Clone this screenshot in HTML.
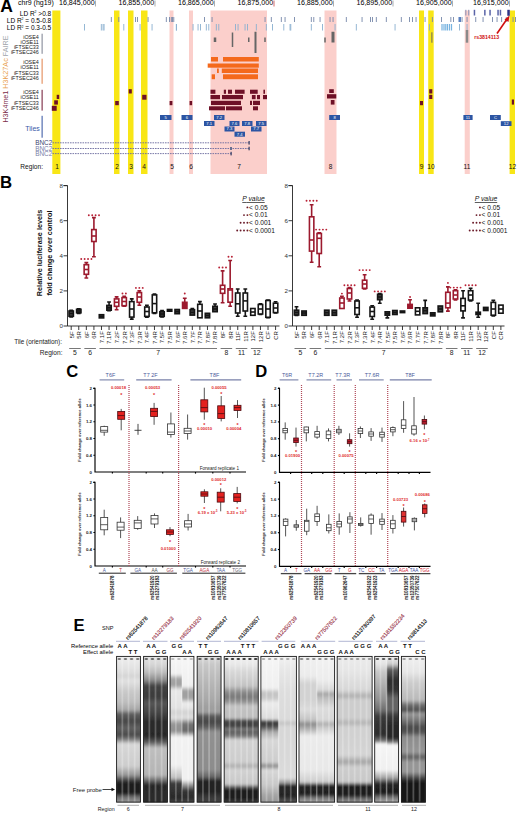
<!DOCTYPE html>
<html><head><meta charset="utf-8"><style>
html,body{margin:0;padding:0;background:#fff;overflow:hidden;width:520px;height:814px;}
svg{display:block;font-family:"Liberation Sans", sans-serif;}
</style></head><body>
<svg width="520" height="814" viewBox="0 0 520 814">
<rect width="520" height="814" fill="#fff"/>
<rect x="169.50" y="10.50" width="4.00" height="163.50" fill="#fbcfcb" />
<rect x="189.00" y="10.50" width="4.00" height="163.50" fill="#fbcfcb" />
<rect x="210.50" y="10.50" width="56.50" height="163.50" fill="#fbcfcb" />
<rect x="324.50" y="10.50" width="12.00" height="163.50" fill="#fbcfcb" />
<rect x="464.70" y="10.50" width="5.10" height="163.50" fill="#fbcfcb" />
<rect x="52.30" y="10.50" width="8.10" height="163.50" fill="#f8e616" />
<rect x="114.00" y="10.50" width="5.50" height="163.50" fill="#f8e616" />
<rect x="128.00" y="10.50" width="5.50" height="163.50" fill="#f8e616" />
<rect x="141.00" y="10.50" width="6.50" height="163.50" fill="#f8e616" />
<rect x="419.00" y="10.50" width="5.00" height="163.50" fill="#f8e616" />
<rect x="428.20" y="10.50" width="5.50" height="163.50" fill="#f8e616" />
<rect x="509.60" y="10.50" width="5.40" height="163.50" fill="#f8e616" />
<text x="0.20" y="12.40" font-size="17.5" fill="#000" text-anchor="start" font-weight="bold"  style="">A</text>
<text x="18.00" y="4.80" font-size="7" fill="#000" text-anchor="start" font-weight="normal"  style="">chr9 (hg19)</text>
<text x="94.70" y="4.90" font-size="7.15" fill="#000" text-anchor="end" font-weight="normal"  style="">16,845,000</text>
<line x1="95.50" y1="0.50" x2="95.50" y2="6.50" stroke="#999" stroke-width="0.8" />
<text x="154.20" y="4.90" font-size="7.15" fill="#000" text-anchor="end" font-weight="normal"  style="">16,855,000</text>
<line x1="155.00" y1="0.50" x2="155.00" y2="6.50" stroke="#999" stroke-width="0.8" />
<text x="213.70" y="4.90" font-size="7.15" fill="#000" text-anchor="end" font-weight="normal"  style="">16,865,000</text>
<line x1="214.50" y1="0.50" x2="214.50" y2="6.50" stroke="#999" stroke-width="0.8" />
<text x="273.20" y="4.90" font-size="7.15" fill="#000" text-anchor="end" font-weight="normal"  style="">16,875,000</text>
<line x1="274.00" y1="0.50" x2="274.00" y2="6.50" stroke="#c44" stroke-width="0.8" />
<text x="332.70" y="4.90" font-size="7.15" fill="#000" text-anchor="end" font-weight="normal"  style="">16,885,000</text>
<line x1="333.50" y1="0.50" x2="333.50" y2="6.50" stroke="#999" stroke-width="0.8" />
<text x="392.20" y="4.90" font-size="7.15" fill="#000" text-anchor="end" font-weight="normal"  style="">16,895,000</text>
<line x1="393.00" y1="0.50" x2="393.00" y2="6.50" stroke="#999" stroke-width="0.8" />
<text x="451.70" y="4.90" font-size="7.15" fill="#000" text-anchor="end" font-weight="normal"  style="">16,905,000</text>
<line x1="452.50" y1="0.50" x2="452.50" y2="6.50" stroke="#999" stroke-width="0.8" />
<text x="508.70" y="4.90" font-size="7.15" fill="#000" text-anchor="end" font-weight="normal"  style="">16,915,000</text>
<line x1="509.50" y1="0.50" x2="509.50" y2="6.50" stroke="#999" stroke-width="0.8" />
<text x="51.20" y="15.70" font-size="6.5" fill="#000" text-anchor="end" font-weight="normal"  style="">LD R<tspan font-size="3.5" dy="-2.5">2</tspan><tspan dy="2.5"> &gt;0.8</tspan></text>
<text x="51.20" y="22.90" font-size="6.5" fill="#000" text-anchor="end" font-weight="normal"  style="">LD R<tspan font-size="3.5" dy="-2.5">2</tspan><tspan dy="2.5"> = 0.5-0.8</tspan></text>
<text x="51.20" y="30.10" font-size="6.5" fill="#000" text-anchor="end" font-weight="normal"  style="">LD R<tspan font-size="3.5" dy="-2.5">2</tspan><tspan dy="2.5"> = 0.3-0.5</tspan></text>
<rect x="473.70" y="9.80" width="1.50" height="5.70" fill="#5a64a8" />
<rect x="484.10" y="9.80" width="1.50" height="5.70" fill="#5a64a8" />
<rect x="489.30" y="9.80" width="1.50" height="5.70" fill="#5a64a8" />
<rect x="497.30" y="9.80" width="1.50" height="5.70" fill="#5a64a8" />
<rect x="499.70" y="9.80" width="1.50" height="5.70" fill="#5a64a8" />
<rect x="507.30" y="9.80" width="2.50" height="6.00" fill="#2e3488" />
<rect x="110.85" y="17.00" width="0.90" height="5.00" fill="#7788aa" />
<rect x="118.35" y="17.00" width="0.90" height="5.00" fill="#7788aa" />
<rect x="135.10" y="17.00" width="0.90" height="5.00" fill="#7788aa" />
<rect x="137.10" y="17.00" width="0.90" height="5.00" fill="#7788aa" />
<rect x="147.60" y="17.00" width="0.90" height="5.00" fill="#7788aa" />
<rect x="165.85" y="17.00" width="0.90" height="5.00" fill="#7788aa" />
<rect x="169.10" y="17.00" width="0.90" height="5.00" fill="#7788aa" />
<rect x="172.10" y="17.00" width="0.90" height="5.00" fill="#7788aa" />
<rect x="170.85" y="17.00" width="0.90" height="5.00" fill="#7788aa" />
<rect x="173.35" y="17.00" width="0.90" height="5.00" fill="#7788aa" />
<rect x="204.10" y="17.00" width="0.90" height="5.00" fill="#7788aa" />
<rect x="211.60" y="17.00" width="0.90" height="5.00" fill="#7788aa" />
<rect x="264.60" y="17.00" width="0.90" height="5.00" fill="#7788aa" />
<rect x="270.85" y="17.00" width="0.90" height="5.00" fill="#7788aa" />
<rect x="280.85" y="17.00" width="0.90" height="5.00" fill="#7788aa" />
<rect x="284.60" y="17.00" width="0.90" height="5.00" fill="#7788aa" />
<rect x="294.10" y="17.00" width="0.90" height="5.00" fill="#7788aa" />
<rect x="310.85" y="17.00" width="0.90" height="5.00" fill="#7788aa" />
<rect x="313.35" y="17.00" width="0.90" height="5.00" fill="#7788aa" />
<rect x="319.60" y="17.00" width="0.90" height="5.00" fill="#7788aa" />
<rect x="329.60" y="17.00" width="0.90" height="5.00" fill="#7788aa" />
<rect x="332.60" y="17.00" width="0.90" height="5.00" fill="#7788aa" />
<rect x="345.85" y="17.00" width="0.90" height="5.00" fill="#7788aa" />
<rect x="361.60" y="17.00" width="0.90" height="5.00" fill="#7788aa" />
<rect x="370.10" y="17.00" width="0.90" height="5.00" fill="#7788aa" />
<rect x="372.10" y="17.00" width="0.90" height="5.00" fill="#7788aa" />
<rect x="375.85" y="17.00" width="0.90" height="5.00" fill="#7788aa" />
<rect x="385.85" y="17.00" width="0.90" height="5.00" fill="#7788aa" />
<rect x="400.85" y="17.00" width="0.90" height="5.00" fill="#7788aa" />
<rect x="409.10" y="17.00" width="0.90" height="5.00" fill="#7788aa" />
<rect x="412.10" y="17.00" width="0.90" height="5.00" fill="#7788aa" />
<rect x="415.60" y="17.00" width="0.90" height="5.00" fill="#7788aa" />
<rect x="424.60" y="17.00" width="0.90" height="5.00" fill="#7788aa" />
<rect x="431.90" y="17.00" width="0.90" height="5.00" fill="#7788aa" />
<rect x="441.10" y="17.00" width="0.90" height="5.00" fill="#7788aa" />
<rect x="450.40" y="17.00" width="0.90" height="5.00" fill="#7788aa" />
<rect x="453.10" y="17.00" width="0.90" height="5.00" fill="#7788aa" />
<rect x="459.10" y="17.00" width="0.90" height="5.00" fill="#7788aa" />
<rect x="461.60" y="17.00" width="0.90" height="5.00" fill="#7788aa" />
<rect x="466.60" y="17.00" width="0.90" height="5.00" fill="#7788aa" />
<rect x="475.30" y="17.00" width="0.90" height="5.00" fill="#7788aa" />
<rect x="482.60" y="17.00" width="0.90" height="5.00" fill="#7788aa" />
<rect x="492.00" y="17.00" width="0.90" height="5.00" fill="#7788aa" />
<rect x="496.60" y="17.00" width="0.90" height="5.00" fill="#7788aa" />
<rect x="501.20" y="17.00" width="0.90" height="5.00" fill="#7788aa" />
<rect x="505.80" y="17.00" width="0.90" height="5.00" fill="#7788aa" />
<rect x="512.60" y="17.00" width="0.90" height="5.00" fill="#7788aa" />
<rect x="515.10" y="17.00" width="0.90" height="5.00" fill="#7788aa" />
<rect x="458.50" y="17.00" width="2.50" height="5.00" fill="#5a80c0" />
<rect x="84.10" y="24.00" width="0.90" height="6.50" fill="#8ab0d0" />
<rect x="100.85" y="24.00" width="0.90" height="6.50" fill="#8ab0d0" />
<rect x="102.60" y="24.00" width="0.90" height="6.50" fill="#8ab0d0" />
<rect x="103.60" y="24.00" width="0.90" height="6.50" fill="#8ab0d0" />
<rect x="123.35" y="24.00" width="0.90" height="6.50" fill="#8ab0d0" />
<rect x="139.60" y="24.00" width="0.90" height="6.50" fill="#8ab0d0" />
<rect x="151.60" y="24.00" width="0.90" height="6.50" fill="#8ab0d0" />
<rect x="176.10" y="24.00" width="0.90" height="6.50" fill="#8ab0d0" />
<rect x="175.85" y="24.00" width="0.90" height="6.50" fill="#8ab0d0" />
<rect x="192.60" y="24.00" width="0.90" height="6.50" fill="#8ab0d0" />
<rect x="197.60" y="24.00" width="0.90" height="6.50" fill="#8ab0d0" />
<rect x="200.10" y="24.00" width="0.90" height="6.50" fill="#8ab0d0" />
<rect x="205.85" y="24.00" width="0.90" height="6.50" fill="#8ab0d0" />
<rect x="208.35" y="24.00" width="0.90" height="6.50" fill="#8ab0d0" />
<rect x="215.85" y="24.00" width="0.90" height="6.50" fill="#8ab0d0" />
<rect x="218.35" y="24.00" width="0.90" height="6.50" fill="#8ab0d0" />
<rect x="235.10" y="24.00" width="0.90" height="6.50" fill="#8ab0d0" />
<rect x="237.60" y="24.00" width="0.90" height="6.50" fill="#8ab0d0" />
<rect x="244.60" y="24.00" width="0.90" height="6.50" fill="#8ab0d0" />
<rect x="247.10" y="24.00" width="0.90" height="6.50" fill="#8ab0d0" />
<rect x="255.85" y="24.00" width="0.90" height="6.50" fill="#8ab0d0" />
<rect x="265.85" y="24.00" width="0.90" height="6.50" fill="#8ab0d0" />
<rect x="272.10" y="24.00" width="0.90" height="6.50" fill="#8ab0d0" />
<rect x="283.35" y="24.00" width="0.90" height="6.50" fill="#8ab0d0" />
<rect x="289.60" y="24.00" width="0.90" height="6.50" fill="#8ab0d0" />
<rect x="290.35" y="24.00" width="0.90" height="6.50" fill="#8ab0d0" />
<rect x="310.85" y="24.00" width="0.90" height="6.50" fill="#8ab0d0" />
<rect x="322.10" y="24.00" width="0.90" height="6.50" fill="#8ab0d0" />
<rect x="334.60" y="24.00" width="0.90" height="6.50" fill="#8ab0d0" />
<rect x="355.85" y="24.00" width="0.90" height="6.50" fill="#8ab0d0" />
<rect x="394.60" y="24.00" width="0.90" height="6.50" fill="#8ab0d0" />
<rect x="429.10" y="24.00" width="0.90" height="6.50" fill="#8ab0d0" />
<rect x="459.10" y="24.00" width="0.90" height="6.50" fill="#8ab0d0" />
<rect x="466.60" y="24.00" width="0.90" height="6.50" fill="#8ab0d0" />
<rect x="441.40" y="24.00" width="1.20" height="6.50" fill="#78b4e0" />
<rect x="443.40" y="24.00" width="1.20" height="6.50" fill="#78b4e0" />
<rect x="445.20" y="24.00" width="1.20" height="6.50" fill="#78b4e0" />
<rect x="446.90" y="24.00" width="1.20" height="6.50" fill="#78b4e0" />
<rect x="448.90" y="24.00" width="1.20" height="6.50" fill="#78b4e0" />
<rect x="450.90" y="24.00" width="1.20" height="6.50" fill="#78b4e0" />
<rect x="465.20" y="9.80" width="1.20" height="5.70" fill="#9a9ab8" />
<rect x="468.10" y="9.80" width="1.20" height="5.70" fill="#9a9ab8" />
<rect x="213.75" y="37.50" width="2.50" height="4.50" fill="#666" />
<rect x="231.75" y="32.50" width="1.50" height="14.50" fill="#666" />
<rect x="248.00" y="37.50" width="1.50" height="4.50" fill="#666" />
<rect x="254.50" y="31.75" width="2.00" height="21.25" fill="#666" />
<rect x="264.25" y="37.50" width="1.50" height="4.50" fill="#666" />
<rect x="324.25" y="37.50" width="1.50" height="5.00" fill="#666" />
<rect x="331.50" y="31.75" width="3.00" height="10.75" fill="#666" />
<rect x="431.40" y="32.30" width="1.00" height="10.40" fill="#666" />
<rect x="465.75" y="30.00" width="2.50" height="12.70" fill="#8a8a8a" />
<text x="38.80" y="38.50" font-size="5.4" fill="#222" text-anchor="end" font-weight="normal"  style="">iOSE4</text>
<text x="38.80" y="43.70" font-size="5.4" fill="#222" text-anchor="end" font-weight="normal"  style="">iOSE11</text>
<text x="38.80" y="48.90" font-size="5.4" fill="#222" text-anchor="end" font-weight="normal"  style="">iFTSEC33</text>
<text x="38.80" y="54.10" font-size="5.4" fill="#222" text-anchor="end" font-weight="normal"  style="">iFTSEC246</text>
<text x="38.80" y="64.20" font-size="5.4" fill="#222" text-anchor="end" font-weight="normal"  style="">iOSE4</text>
<text x="38.80" y="69.40" font-size="5.4" fill="#222" text-anchor="end" font-weight="normal"  style="">iOSE11</text>
<text x="38.80" y="74.60" font-size="5.4" fill="#222" text-anchor="end" font-weight="normal"  style="">iFTSEC33</text>
<text x="38.80" y="79.80" font-size="5.4" fill="#222" text-anchor="end" font-weight="normal"  style="">iFTSEC246</text>
<text x="38.80" y="94.20" font-size="5.4" fill="#222" text-anchor="end" font-weight="normal"  style="">iOSE4</text>
<text x="38.80" y="99.40" font-size="5.4" fill="#222" text-anchor="end" font-weight="normal"  style="">iOSE11</text>
<text x="38.80" y="104.60" font-size="5.4" fill="#222" text-anchor="end" font-weight="normal"  style="">iFTSEC33</text>
<text x="38.80" y="109.80" font-size="5.4" fill="#222" text-anchor="end" font-weight="normal"  style="">iFTSEC246</text>
<rect x="41.60" y="33.70" width="1.00" height="20.10" fill="#7a7f8f" />
<rect x="41.60" y="58.70" width="1.00" height="25.10" fill="#e0804a" />
<rect x="41.60" y="89.80" width="1.00" height="20.80" fill="#6e1530" />
<rect x="41.60" y="115.80" width="1.00" height="21.90" fill="#3050a0" />
<text x="39.80" y="131.00" font-size="7" fill="#3a5aa8" text-anchor="end" font-weight="normal"  style="">Tiles</text>
<text transform="translate(8.2,122.6) rotate(-90)" font-size="7.2" fill="#7a2a48"><tspan>H3K4me1 </tspan><tspan fill="#e8a050">H3K27Ac </tspan><tspan fill="#a0a4aa">FAIRE</tspan></text>
<rect x="211.00" y="57.00" width="7.00" height="4.50" fill="#f4691c" />
<rect x="223.00" y="57.00" width="35.80" height="4.50" fill="#f4691c" />
<rect x="207.70" y="63.50" width="51.10" height="4.20" fill="#f4691c" />
<rect x="217.00" y="68.50" width="1.80" height="4.50" fill="#f4691c" />
<rect x="221.80" y="68.50" width="36.20" height="4.50" fill="#f4691c" />
<rect x="211.70" y="74.30" width="3.30" height="4.90" fill="#f4691c" />
<rect x="223.00" y="74.30" width="35.00" height="4.90" fill="#f4691c" />
<rect x="210.50" y="89.70" width="4.90" height="4.10" fill="#6e1027" />
<rect x="223.80" y="89.70" width="2.20" height="4.10" fill="#6e1027" />
<rect x="228.00" y="89.70" width="4.00" height="4.10" fill="#6e1027" />
<rect x="235.00" y="89.70" width="9.60" height="4.10" fill="#6e1027" />
<rect x="250.00" y="89.70" width="7.70" height="4.10" fill="#6e1027" />
<rect x="263.40" y="89.70" width="1.60" height="4.10" fill="#6e1027" />
<rect x="210.50" y="95.00" width="9.50" height="4.20" fill="#6e1027" />
<rect x="222.00" y="95.00" width="21.00" height="4.20" fill="#6e1027" />
<rect x="251.90" y="95.00" width="3.70" height="4.20" fill="#6e1027" />
<rect x="257.00" y="95.00" width="3.00" height="4.20" fill="#6e1027" />
<rect x="263.00" y="95.00" width="4.00" height="4.20" fill="#6e1027" />
<rect x="211.00" y="100.80" width="30.00" height="4.20" fill="#6e1027" />
<rect x="250.00" y="100.80" width="2.00" height="4.20" fill="#6e1027" />
<rect x="253.00" y="100.80" width="7.00" height="4.20" fill="#6e1027" />
<rect x="209.00" y="106.30" width="16.00" height="4.00" fill="#6e1027" />
<rect x="226.00" y="106.30" width="16.00" height="4.00" fill="#6e1027" />
<rect x="253.00" y="106.30" width="5.00" height="4.00" fill="#6e1027" />
<rect x="56.70" y="94.80" width="2.50" height="4.20" fill="#6e1027" />
<rect x="54.20" y="100.30" width="3.70" height="4.30" fill="#6e1027" />
<rect x="51.80" y="105.80" width="4.90" height="5.00" fill="#6e1027" />
<rect x="115.20" y="101.00" width="3.60" height="4.20" fill="#6e1027" />
<rect x="128.70" y="89.20" width="3.10" height="4.30" fill="#6e1027" />
<rect x="142.20" y="94.80" width="4.30" height="4.90" fill="#6e1027" />
<rect x="169.60" y="101.00" width="2.80" height="4.20" fill="#6e1027" />
<rect x="189.60" y="101.00" width="2.50" height="4.20" fill="#6e1027" />
<rect x="329.20" y="89.20" width="4.60" height="3.80" fill="#6e1027" />
<rect x="327.00" y="94.20" width="9.30" height="4.30" fill="#6e1027" />
<rect x="330.80" y="100.00" width="3.70" height="4.60" fill="#6e1027" />
<rect x="420.00" y="101.00" width="3.00" height="4.20" fill="#6e1027" />
<rect x="429.20" y="89.20" width="3.10" height="4.30" fill="#6e1027" />
<rect x="429.20" y="94.80" width="3.10" height="4.20" fill="#6e1027" />
<rect x="511.80" y="99.50" width="2.20" height="5.10" fill="#6e1027" />
<rect x="160.00" y="115.00" width="11.50" height="5.00" fill="#2c55a3" />
<text x="165.75" y="118.80" font-size="4.2" fill="#fff" text-anchor="middle" font-weight="normal"  style="">5</text>
<rect x="181.50" y="115.00" width="11.00" height="5.00" fill="#2c55a3" />
<text x="187.00" y="118.80" font-size="4.2" fill="#fff" text-anchor="middle" font-weight="normal"  style="">6</text>
<rect x="214.00" y="115.00" width="10.50" height="5.00" fill="#2c55a3" />
<text x="219.25" y="118.80" font-size="4.2" fill="#fff" text-anchor="middle" font-weight="normal"  style="">7.2</text>
<rect x="204.00" y="121.00" width="10.50" height="5.00" fill="#2c55a3" />
<text x="209.25" y="124.80" font-size="4.2" fill="#fff" text-anchor="middle" font-weight="normal"  style="">7.1</text>
<rect x="229.50" y="121.00" width="10.00" height="5.00" fill="#2c55a3" />
<text x="234.50" y="124.80" font-size="4.2" fill="#fff" text-anchor="middle" font-weight="normal"  style="">7.6</text>
<rect x="242.00" y="121.00" width="10.50" height="5.00" fill="#2c55a3" />
<text x="247.25" y="124.80" font-size="4.2" fill="#fff" text-anchor="middle" font-weight="normal"  style="">7.8</text>
<rect x="256.00" y="121.00" width="10.50" height="5.00" fill="#2c55a3" />
<text x="261.25" y="124.80" font-size="4.2" fill="#fff" text-anchor="middle" font-weight="normal"  style="">7.5</text>
<rect x="224.50" y="126.50" width="10.00" height="5.00" fill="#2c55a3" />
<text x="229.50" y="130.30" font-size="4.2" fill="#fff" text-anchor="middle" font-weight="normal"  style="">7.3</text>
<rect x="251.00" y="126.50" width="10.50" height="5.00" fill="#2c55a3" />
<text x="256.25" y="130.30" font-size="4.2" fill="#fff" text-anchor="middle" font-weight="normal"  style="">7.7</text>
<rect x="234.50" y="131.70" width="10.50" height="5.00" fill="#2c55a3" />
<text x="239.75" y="135.50" font-size="4.2" fill="#fff" text-anchor="middle" font-weight="normal"  style="">7.4</text>
<rect x="329.20" y="115.00" width="10.80" height="5.00" fill="#2c55a3" />
<text x="334.60" y="118.80" font-size="4.2" fill="#fff" text-anchor="middle" font-weight="normal"  style="">8</text>
<rect x="463.40" y="115.00" width="9.20" height="5.00" fill="#2c55a3" />
<text x="468.00" y="118.80" font-size="4.2" fill="#fff" text-anchor="middle" font-weight="normal"  style="">11</text>
<rect x="490.00" y="115.00" width="10.80" height="5.00" fill="#2c55a3" />
<text x="495.40" y="118.80" font-size="4.2" fill="#fff" text-anchor="middle" font-weight="normal"  style="">C</text>
<rect x="500.80" y="121.20" width="10.70" height="4.80" fill="#2c55a3" />
<text x="506.15" y="124.80" font-size="4.2" fill="#fff" text-anchor="middle" font-weight="normal"  style="">12</text>
<text x="52.30" y="144.90" font-size="6.4" fill="#3a4270" text-anchor="end" font-weight="normal"  style="">BNC2</text>
<line x1="52.50" y1="142.80" x2="249.50" y2="142.80" stroke="#6a6a9e" stroke-width="0.9" stroke-dasharray="1.6 0.9"/>
<rect x="248.50" y="141.00" width="1.20" height="3.60" fill="#333a60" />
<text x="52.30" y="150.60" font-size="6.4" fill="#7880a8" text-anchor="end" font-weight="normal"  style="">BNC2</text>
<line x1="52.50" y1="148.50" x2="249.50" y2="148.50" stroke="#6a6a9e" stroke-width="0.9" stroke-dasharray="1.6 0.9"/>
<rect x="248.50" y="146.70" width="1.20" height="3.60" fill="#333a60" />
<text x="52.30" y="155.70" font-size="6.4" fill="#7880a8" text-anchor="end" font-weight="normal"  style="">BNC2</text>
<line x1="52.50" y1="153.60" x2="231.50" y2="153.60" stroke="#6a6a9e" stroke-width="0.9" stroke-dasharray="1.6 0.9"/>
<rect x="230.50" y="151.80" width="1.20" height="3.60" fill="#333a60" />
<rect x="230.00" y="147.00" width="2.00" height="3.00" fill="#6a6f90" />
<text x="20.30" y="168.60" font-size="6.6" fill="#111" text-anchor="start" font-weight="normal"  style="">Region:</text>
<text x="57.00" y="168.60" font-size="6.6" fill="#111" text-anchor="middle" font-weight="normal"  style="">1</text>
<text x="117.00" y="168.60" font-size="6.6" fill="#111" text-anchor="middle" font-weight="normal"  style="">2</text>
<text x="131.00" y="168.60" font-size="6.6" fill="#111" text-anchor="middle" font-weight="normal"  style="">3</text>
<text x="144.00" y="168.60" font-size="6.6" fill="#111" text-anchor="middle" font-weight="normal"  style="">4</text>
<text x="172.00" y="168.60" font-size="6.6" fill="#111" text-anchor="middle" font-weight="normal"  style="">5</text>
<text x="191.00" y="168.60" font-size="6.6" fill="#111" text-anchor="middle" font-weight="normal"  style="">6</text>
<text x="239.00" y="168.60" font-size="6.6" fill="#111" text-anchor="middle" font-weight="normal"  style="">7</text>
<text x="330.50" y="168.60" font-size="6.6" fill="#111" text-anchor="middle" font-weight="normal"  style="">8</text>
<text x="421.50" y="168.60" font-size="6.6" fill="#111" text-anchor="middle" font-weight="normal"  style="">9</text>
<text x="431.00" y="168.60" font-size="6.6" fill="#111" text-anchor="middle" font-weight="normal"  style="">10</text>
<text x="467.00" y="168.60" font-size="6.6" fill="#111" text-anchor="middle" font-weight="normal"  style="">11</text>
<text x="512.50" y="168.60" font-size="6.6" fill="#111" text-anchor="middle" font-weight="normal"  style="">12</text>
<text x="474.30" y="38.50" font-size="5.2" fill="#d01010" text-anchor="start" font-weight="bold"  style="">rs3814113</text>
<path d="M497,33.5 L507,19" stroke="#d01010" stroke-width="1.6" fill="none"/>
<path d="M509.5,15.5 L504.5,19.5 L508.5,22 Z" fill="#d01010"/>
<text x="0.00" y="187.80" font-size="16.8" fill="#000" text-anchor="start" font-weight="bold"  style="">B</text>
<g stroke="#222" stroke-width="0.9" fill="none">
<path d="M63.5,185.6 H67.5 V326 H279.5"/>
<path d="M63.5,326.00 H67.5"/>
<path d="M63.5,290.90 H67.5"/>
<path d="M63.5,255.80 H67.5"/>
<path d="M63.5,220.70 H67.5"/>
<path d="M63.5,185.60 H67.5"/>
<path d="M71.20,326 V330"/>
<path d="M78.77,326 V330"/>
<path d="M86.34,326 V330"/>
<path d="M93.91,326 V330"/>
<path d="M101.48,326 V330"/>
<path d="M109.05,326 V330"/>
<path d="M116.62,326 V330"/>
<path d="M124.19,326 V330"/>
<path d="M131.76,326 V330"/>
<path d="M139.33,326 V330"/>
<path d="M146.90,326 V330"/>
<path d="M154.47,326 V330"/>
<path d="M162.04,326 V330"/>
<path d="M169.61,326 V330"/>
<path d="M177.18,326 V330"/>
<path d="M184.75,326 V330"/>
<path d="M192.32,326 V330"/>
<path d="M199.89,326 V330"/>
<path d="M207.46,326 V330"/>
<path d="M215.03,326 V330"/>
<path d="M222.60,326 V330"/>
<path d="M230.17,326 V330"/>
<path d="M237.74,326 V330"/>
<path d="M245.31,326 V330"/>
<path d="M252.88,326 V330"/>
<path d="M260.45,326 V330"/>
<path d="M268.02,326 V330"/>
<path d="M275.59,326 V330"/>
</g>
<text x="62.90" y="328.20" font-size="6.2" fill="#333" text-anchor="end" font-weight="normal"  style="">0</text>
<text x="62.90" y="293.10" font-size="6.2" fill="#333" text-anchor="end" font-weight="normal"  style="">2</text>
<text x="62.90" y="258.00" font-size="6.2" fill="#333" text-anchor="end" font-weight="normal"  style="">4</text>
<text x="62.90" y="222.90" font-size="6.2" fill="#333" text-anchor="end" font-weight="normal"  style="">6</text>
<text x="62.90" y="187.80" font-size="6.2" fill="#333" text-anchor="end" font-weight="normal"  style="">8</text>
<g stroke="#151515" stroke-width="1.6" fill="none">
<path d="M71.20,310.30 V311.00 M69.30,310.30 H73.10"/>
<path d="M71.20,316.30 V317.00 M69.30,317.00 H73.10"/>
<rect x="69.00" y="311.00" width="4.40" height="5.30" fill="#444"/>
<path d="M69.00,313.50 H73.40"/>
</g>
<g stroke="#151515" stroke-width="1.6" fill="none">
<path d="M78.77,308.70 V309.30 M76.87,308.70 H80.67"/>
<path d="M78.77,312.80 V313.40 M76.87,313.40 H80.67"/>
<rect x="76.57" y="309.30" width="4.40" height="3.50" fill="#444"/>
<path d="M76.57,311.00 H80.97"/>
</g>
<g stroke="#9c1a2e" stroke-width="1.6" fill="none">
<path d="M86.34,262.60 V264.70 M84.44,262.60 H88.24"/>
<path d="M86.34,274.30 V278.00 M84.44,278.00 H88.24"/>
<rect x="84.14" y="264.70" width="4.40" height="9.60" fill="#fff"/>
<path d="M84.14,269.50 H88.54"/>
</g>
<circle cx="81.24" cy="259.00" r="0.95" fill="#b82236"/>
<circle cx="84.64" cy="259.00" r="0.95" fill="#b82236"/>
<circle cx="88.04" cy="259.00" r="0.95" fill="#b82236"/>
<circle cx="91.44" cy="259.00" r="0.95" fill="#b82236"/>
<g stroke="#9c1a2e" stroke-width="1.6" fill="none">
<path d="M93.91,217.60 V229.60 M92.01,217.60 H95.81"/>
<path d="M93.91,241.50 V256.70 M92.01,256.70 H95.81"/>
<rect x="91.71" y="229.60" width="4.40" height="11.90" fill="#fff"/>
<path d="M91.71,236.00 H96.11"/>
</g>
<circle cx="88.81" cy="215.20" r="0.95" fill="#b82236"/>
<circle cx="92.21" cy="215.20" r="0.95" fill="#b82236"/>
<circle cx="95.61" cy="215.20" r="0.95" fill="#b82236"/>
<circle cx="99.01" cy="215.20" r="0.95" fill="#b82236"/>
<g stroke="#151515" stroke-width="1.6" fill="none">
<rect x="99.28" y="314.70" width="4.40" height="3.20" fill="#444"/>
<path d="M99.28,316.30 H103.68"/>
</g>
<g stroke="#151515" stroke-width="1.6" fill="none">
<path d="M109.05,302.00 V305.40 M107.15,302.00 H110.95"/>
<path d="M109.05,310.20 V310.80 M107.15,310.80 H110.95"/>
<rect x="106.85" y="305.40" width="4.40" height="4.80" fill="#444"/>
<path d="M106.85,307.80 H111.25"/>
</g>
<g stroke="#9c1a2e" stroke-width="1.6" fill="none">
<path d="M116.62,296.90 V298.90 M114.72,296.90 H118.52"/>
<path d="M116.62,306.30 V309.70 M114.72,309.70 H118.52"/>
<rect x="114.42" y="298.90" width="4.40" height="7.40" fill="#fff"/>
<path d="M114.42,302.30 H118.82"/>
</g>
<g stroke="#9c1a2e" stroke-width="1.6" fill="none">
<path d="M124.19,296.20 V297.60 M122.29,296.20 H126.09"/>
<path d="M124.19,305.70 V306.30 M122.29,306.30 H126.09"/>
<rect x="121.99" y="297.60" width="4.40" height="8.10" fill="#fff"/>
<path d="M121.99,301.50 H126.39"/>
</g>
<circle cx="122.49" cy="293.50" r="0.95" fill="#b82236"/>
<circle cx="125.89" cy="293.50" r="0.95" fill="#b82236"/>
<g stroke="#151515" stroke-width="1.6" fill="none">
<path d="M131.76,298.90 V301.60 M129.86,298.90 H133.66"/>
<path d="M131.76,317.10 V319.10 M129.86,319.10 H133.66"/>
<rect x="129.56" y="301.60" width="4.40" height="15.50" fill="#fff"/>
<path d="M129.56,309.00 H133.96"/>
</g>
<g stroke="#9c1a2e" stroke-width="1.6" fill="none">
<path d="M139.33,290.90 V292.60 M137.43,290.90 H141.23"/>
<path d="M139.33,302.30 V305.30 M137.43,305.30 H141.23"/>
<rect x="137.13" y="292.60" width="4.40" height="9.70" fill="#fff"/>
<path d="M137.13,297.00 H141.53"/>
</g>
<circle cx="135.93" cy="287.90" r="0.95" fill="#b82236"/>
<circle cx="139.33" cy="287.90" r="0.95" fill="#b82236"/>
<circle cx="142.73" cy="287.90" r="0.95" fill="#b82236"/>
<g stroke="#151515" stroke-width="1.6" fill="none">
<path d="M146.90,305.30 V307.00 M145.00,305.30 H148.80"/>
<path d="M146.90,316.40 V317.10 M145.00,317.10 H148.80"/>
<rect x="144.70" y="307.00" width="4.40" height="9.40" fill="#fff"/>
<path d="M144.70,311.50 H149.10"/>
</g>
<g stroke="#151515" stroke-width="1.6" fill="none">
<path d="M154.47,294.00 V294.90 M152.57,294.00 H156.37"/>
<path d="M154.47,312.80 V313.50 M152.57,313.50 H156.37"/>
<rect x="152.27" y="294.90" width="4.40" height="17.90" fill="#fff"/>
<path d="M152.27,303.60 H156.67"/>
</g>
<g stroke="#151515" stroke-width="1.6" fill="none">
<path d="M162.04,310.50 V311.70 M160.14,310.50 H163.94"/>
<path d="M162.04,316.40 V317.00 M160.14,317.00 H163.94"/>
<rect x="159.84" y="311.70" width="4.40" height="4.70" fill="#444"/>
<path d="M159.84,314.00 H164.24"/>
</g>
<g stroke="#151515" stroke-width="1.6" fill="none">
<rect x="167.41" y="309.50" width="4.40" height="1.70" fill="#444"/>
<path d="M167.41,310.30 H171.81"/>
</g>
<g stroke="#151515" stroke-width="1.6" fill="none">
<rect x="174.98" y="309.50" width="4.40" height="4.20" fill="#444"/>
<path d="M174.98,311.60 H179.38"/>
</g>
<g stroke="#9c1a2e" stroke-width="1.6" fill="none">
<path d="M184.75,298.30 V302.30 M182.85,298.30 H186.65"/>
<rect x="182.55" y="302.30" width="4.40" height="6.10" fill="#9c1a2e"/>
<path d="M182.55,305.00 H186.95"/>
</g>
<circle cx="184.75" cy="293.50" r="0.95" fill="#b82236"/>
<g stroke="#151515" stroke-width="1.6" fill="none">
<path d="M192.32,308.50 V309.70 M190.42,308.50 H194.22"/>
<rect x="190.12" y="309.70" width="4.40" height="5.40" fill="#444"/>
<path d="M190.12,312.40 H194.52"/>
</g>
<g stroke="#151515" stroke-width="1.6" fill="none">
<path d="M199.89,301.60 V304.30 M197.99,301.60 H201.79"/>
<rect x="197.69" y="304.30" width="4.40" height="13.50" fill="#fff"/>
<path d="M197.69,311.00 H202.09"/>
</g>
<g stroke="#151515" stroke-width="1.6" fill="none">
<rect x="205.26" y="313.30" width="4.40" height="4.50" fill="#444"/>
<path d="M205.26,315.50 H209.66"/>
</g>
<g stroke="#151515" stroke-width="1.6" fill="none">
<path d="M215.03,304.00 V306.30 M213.13,304.00 H216.93"/>
<rect x="212.83" y="306.30" width="4.40" height="5.40" fill="#444"/>
<path d="M212.83,309.00 H217.23"/>
</g>
<g stroke="#9c1a2e" stroke-width="1.6" fill="none">
<path d="M222.60,270.90 V285.30 M220.70,270.90 H224.50"/>
<path d="M222.60,293.30 V302.80 M220.70,302.80 H224.50"/>
<rect x="220.40" y="285.30" width="4.40" height="8.00" fill="#fff"/>
<path d="M220.40,289.00 H224.80"/>
</g>
<circle cx="219.20" cy="267.50" r="0.95" fill="#b82236"/>
<circle cx="222.60" cy="267.50" r="0.95" fill="#b82236"/>
<circle cx="226.00" cy="267.50" r="0.95" fill="#b82236"/>
<g stroke="#9c1a2e" stroke-width="1.6" fill="none">
<path d="M230.17,260.50 V288.80 M228.27,260.50 H232.07"/>
<path d="M230.17,302.20 V306.30 M228.27,306.30 H232.07"/>
<rect x="227.97" y="288.80" width="4.40" height="13.40" fill="#fff"/>
<path d="M227.97,290.00 H232.37"/>
</g>
<circle cx="228.47" cy="256.70" r="0.95" fill="#b82236"/>
<circle cx="231.87" cy="256.70" r="0.95" fill="#b82236"/>
<g stroke="#151515" stroke-width="1.6" fill="none">
<path d="M237.74,289.00 V293.00 M235.84,289.00 H239.64"/>
<path d="M237.74,313.00 V316.20 M235.84,316.20 H239.64"/>
<rect x="235.54" y="293.00" width="4.40" height="20.00" fill="#fff"/>
<path d="M235.54,303.80 H239.94"/>
</g>
<g stroke="#151515" stroke-width="1.6" fill="none">
<path d="M245.31,289.00 V293.00 M243.41,289.00 H247.21"/>
<path d="M245.31,311.00 V316.20 M243.41,316.20 H247.21"/>
<rect x="243.11" y="293.00" width="4.40" height="18.00" fill="#fff"/>
<path d="M243.11,300.90 H247.51"/>
</g>
<g stroke="#151515" stroke-width="1.6" fill="none">
<rect x="250.68" y="308.50" width="4.40" height="6.80" fill="#fff"/>
<path d="M250.68,312.00 H255.08"/>
</g>
<g stroke="#151515" stroke-width="1.6" fill="none">
<path d="M260.45,303.80 V304.50 M258.55,303.80 H262.35"/>
<path d="M260.45,314.00 V314.50 M258.55,314.50 H262.35"/>
<rect x="258.25" y="304.50" width="4.40" height="9.50" fill="#fff"/>
<path d="M258.25,309.00 H262.65"/>
</g>
<g stroke="#151515" stroke-width="1.6" fill="none">
<path d="M268.02,300.00 V300.50 M266.12,300.00 H269.92"/>
<path d="M268.02,317.30 V317.80 M266.12,317.80 H269.92"/>
<rect x="265.82" y="300.50" width="4.40" height="16.80" fill="#fff"/>
<path d="M265.82,309.00 H270.22"/>
</g>
<g stroke="#151515" stroke-width="1.6" fill="none">
<path d="M275.59,301.80 V303.20 M273.69,301.80 H277.49"/>
<path d="M275.59,312.60 V313.00 M273.69,313.00 H277.49"/>
<rect x="273.39" y="303.20" width="4.40" height="9.40" fill="#fff"/>
<path d="M273.39,308.00 H277.79"/>
</g>
<text transform="translate(73.60,331.2) rotate(-90)" font-size="6" fill="#222" text-anchor="end">5F</text>
<text transform="translate(81.17,331.2) rotate(-90)" font-size="6" fill="#222" text-anchor="end">5R</text>
<text transform="translate(88.74,331.2) rotate(-90)" font-size="6" fill="#222" text-anchor="end">6F</text>
<text transform="translate(96.31,331.2) rotate(-90)" font-size="6" fill="#222" text-anchor="end">6R</text>
<text transform="translate(103.88,331.2) rotate(-90)" font-size="6" fill="#222" text-anchor="end">7.1F</text>
<text transform="translate(111.45,331.2) rotate(-90)" font-size="6" fill="#222" text-anchor="end">7.1R</text>
<text transform="translate(119.02,331.2) rotate(-90)" font-size="6" fill="#222" text-anchor="end">7.2F</text>
<text transform="translate(126.59,331.2) rotate(-90)" font-size="6" fill="#222" text-anchor="end">7.2R</text>
<text transform="translate(134.16,331.2) rotate(-90)" font-size="6" fill="#222" text-anchor="end">7.3F</text>
<text transform="translate(141.73,331.2) rotate(-90)" font-size="6" fill="#222" text-anchor="end">7.3R</text>
<text transform="translate(149.30,331.2) rotate(-90)" font-size="6" fill="#222" text-anchor="end">7.4F</text>
<text transform="translate(156.87,331.2) rotate(-90)" font-size="6" fill="#222" text-anchor="end">7.4R</text>
<text transform="translate(164.44,331.2) rotate(-90)" font-size="6" fill="#222" text-anchor="end">7.5F</text>
<text transform="translate(172.01,331.2) rotate(-90)" font-size="6" fill="#222" text-anchor="end">7.5R</text>
<text transform="translate(179.58,331.2) rotate(-90)" font-size="6" fill="#222" text-anchor="end">7.6F</text>
<text transform="translate(187.15,331.2) rotate(-90)" font-size="6" fill="#222" text-anchor="end">7.6R</text>
<text transform="translate(194.72,331.2) rotate(-90)" font-size="6" fill="#222" text-anchor="end">7.7F</text>
<text transform="translate(202.29,331.2) rotate(-90)" font-size="6" fill="#222" text-anchor="end">7.7R</text>
<text transform="translate(209.86,331.2) rotate(-90)" font-size="6" fill="#222" text-anchor="end">7.8F</text>
<text transform="translate(217.43,331.2) rotate(-90)" font-size="6" fill="#222" text-anchor="end">7.8R</text>
<text transform="translate(225.00,331.2) rotate(-90)" font-size="6" fill="#222" text-anchor="end">8F</text>
<text transform="translate(232.57,331.2) rotate(-90)" font-size="6" fill="#222" text-anchor="end">8R</text>
<text transform="translate(240.14,331.2) rotate(-90)" font-size="6" fill="#222" text-anchor="end">11F</text>
<text transform="translate(247.71,331.2) rotate(-90)" font-size="6" fill="#222" text-anchor="end">11R</text>
<text transform="translate(255.28,331.2) rotate(-90)" font-size="6" fill="#222" text-anchor="end">12F</text>
<text transform="translate(262.85,331.2) rotate(-90)" font-size="6" fill="#222" text-anchor="end">12R</text>
<text transform="translate(270.42,331.2) rotate(-90)" font-size="6" fill="#222" text-anchor="end">CF</text>
<text transform="translate(277.99,331.2) rotate(-90)" font-size="6" fill="#222" text-anchor="end">CR</text>
<line x1="69.20" y1="348.50" x2="80.77" y2="348.50" stroke="#555" stroke-width="0.8" />
<text x="74.99" y="355.00" font-size="6.8" fill="#222" text-anchor="middle" font-weight="normal"  style="">5</text>
<line x1="84.34" y1="348.50" x2="95.91" y2="348.50" stroke="#555" stroke-width="0.8" />
<text x="90.12" y="355.00" font-size="6.8" fill="#222" text-anchor="middle" font-weight="normal"  style="">6</text>
<line x1="99.48" y1="348.50" x2="217.03" y2="348.50" stroke="#555" stroke-width="0.8" />
<text x="158.26" y="355.00" font-size="6.8" fill="#222" text-anchor="middle" font-weight="normal"  style="">7</text>
<line x1="220.60" y1="348.50" x2="232.17" y2="348.50" stroke="#555" stroke-width="0.8" />
<text x="226.39" y="355.00" font-size="6.8" fill="#222" text-anchor="middle" font-weight="normal"  style="">8</text>
<line x1="235.74" y1="348.50" x2="247.31" y2="348.50" stroke="#555" stroke-width="0.8" />
<text x="241.53" y="355.00" font-size="6.8" fill="#222" text-anchor="middle" font-weight="normal"  style="">11</text>
<line x1="250.88" y1="348.50" x2="262.45" y2="348.50" stroke="#555" stroke-width="0.8" />
<text x="256.66" y="355.00" font-size="6.8" fill="#222" text-anchor="middle" font-weight="normal"  style="">12</text>
<g stroke="#222" stroke-width="0.9" fill="none">
<path d="M288.5,185.6 H292.5 V326 H504.5"/>
<path d="M288.5,326.00 H292.5"/>
<path d="M288.5,290.90 H292.5"/>
<path d="M288.5,255.80 H292.5"/>
<path d="M288.5,220.70 H292.5"/>
<path d="M288.5,185.60 H292.5"/>
<path d="M296.50,326 V330"/>
<path d="M304.07,326 V330"/>
<path d="M311.64,326 V330"/>
<path d="M319.21,326 V330"/>
<path d="M326.78,326 V330"/>
<path d="M334.35,326 V330"/>
<path d="M341.92,326 V330"/>
<path d="M349.49,326 V330"/>
<path d="M357.06,326 V330"/>
<path d="M364.63,326 V330"/>
<path d="M372.20,326 V330"/>
<path d="M379.77,326 V330"/>
<path d="M387.34,326 V330"/>
<path d="M394.91,326 V330"/>
<path d="M402.48,326 V330"/>
<path d="M410.05,326 V330"/>
<path d="M417.62,326 V330"/>
<path d="M425.19,326 V330"/>
<path d="M432.76,326 V330"/>
<path d="M440.33,326 V330"/>
<path d="M447.90,326 V330"/>
<path d="M455.47,326 V330"/>
<path d="M463.04,326 V330"/>
<path d="M470.61,326 V330"/>
<path d="M478.18,326 V330"/>
<path d="M485.75,326 V330"/>
<path d="M493.32,326 V330"/>
<path d="M500.89,326 V330"/>
</g>
<text x="287.90" y="328.20" font-size="6.2" fill="#333" text-anchor="end" font-weight="normal"  style="">0</text>
<text x="287.90" y="293.10" font-size="6.2" fill="#333" text-anchor="end" font-weight="normal"  style="">2</text>
<text x="287.90" y="258.00" font-size="6.2" fill="#333" text-anchor="end" font-weight="normal"  style="">4</text>
<text x="287.90" y="222.90" font-size="6.2" fill="#333" text-anchor="end" font-weight="normal"  style="">6</text>
<text x="287.90" y="187.80" font-size="6.2" fill="#333" text-anchor="end" font-weight="normal"  style="">8</text>
<g stroke="#151515" stroke-width="1.6" fill="none">
<path d="M296.50,306.70 V310.20 M294.60,306.70 H298.40"/>
<path d="M296.50,315.00 V315.50 M294.60,315.50 H298.40"/>
<rect x="294.30" y="310.20" width="4.40" height="4.80" fill="#444"/>
<path d="M294.30,312.50 H298.70"/>
</g>
<g stroke="#151515" stroke-width="1.6" fill="none">
<rect x="301.87" y="311.00" width="4.40" height="4.30" fill="#444"/>
<path d="M301.87,313.00 H306.27"/>
</g>
<g stroke="#9c1a2e" stroke-width="1.6" fill="none">
<path d="M311.64,204.80 V216.80 M309.74,204.80 H313.54"/>
<path d="M311.64,251.10 V262.30 M309.74,262.30 H313.54"/>
<rect x="309.44" y="216.80" width="4.40" height="34.30" fill="#fff"/>
<path d="M309.44,240.00 H313.84"/>
</g>
<circle cx="306.54" cy="200.80" r="0.95" fill="#b82236"/>
<circle cx="309.94" cy="200.80" r="0.95" fill="#b82236"/>
<circle cx="313.34" cy="200.80" r="0.95" fill="#b82236"/>
<circle cx="316.74" cy="200.80" r="0.95" fill="#b82236"/>
<g stroke="#9c1a2e" stroke-width="1.6" fill="none">
<path d="M319.21,232.70 V233.50 M317.31,232.70 H321.11"/>
<path d="M319.21,253.50 V266.80 M317.31,266.80 H321.11"/>
<rect x="317.01" y="233.50" width="4.40" height="20.00" fill="#fff"/>
<path d="M317.01,238.30 H321.41"/>
</g>
<circle cx="316.11" cy="229.60" r="0.95" fill="#b82236"/>
<circle cx="319.51" cy="229.60" r="0.95" fill="#b82236"/>
<circle cx="322.91" cy="229.60" r="0.95" fill="#b82236"/>
<circle cx="326.31" cy="229.60" r="0.95" fill="#b82236"/>
<g stroke="#151515" stroke-width="1.6" fill="none">
<rect x="324.58" y="310.20" width="4.40" height="5.10" fill="#444"/>
<path d="M324.58,312.70 H328.98"/>
</g>
<g stroke="#151515" stroke-width="1.6" fill="none">
<rect x="332.15" y="310.20" width="4.40" height="5.10" fill="#444"/>
<path d="M332.15,312.70 H336.55"/>
</g>
<g stroke="#9c1a2e" stroke-width="1.6" fill="none">
<path d="M341.92,296.30 V298.00 M340.02,296.30 H343.82"/>
<rect x="339.72" y="298.00" width="4.40" height="10.50" fill="#fff"/>
<path d="M339.72,303.00 H344.12"/>
</g>
<circle cx="341.92" cy="293.60" r="0.95" fill="#b82236"/>
<g stroke="#9c1a2e" stroke-width="1.6" fill="none">
<path d="M349.49,287.50 V288.50 M347.59,287.50 H351.39"/>
<path d="M349.49,299.00 V301.00 M347.59,301.00 H351.39"/>
<rect x="347.29" y="288.50" width="4.40" height="10.50" fill="#fff"/>
<path d="M347.29,293.00 H351.69"/>
</g>
<circle cx="344.39" cy="285.30" r="0.95" fill="#b82236"/>
<circle cx="347.79" cy="285.30" r="0.95" fill="#b82236"/>
<circle cx="351.19" cy="285.30" r="0.95" fill="#b82236"/>
<circle cx="354.59" cy="285.30" r="0.95" fill="#b82236"/>
<g stroke="#151515" stroke-width="1.6" fill="none">
<path d="M357.06,300.00 V301.00 M355.16,300.00 H358.96"/>
<path d="M357.06,314.50 V317.20 M355.16,317.20 H358.96"/>
<rect x="354.86" y="301.00" width="4.40" height="13.50" fill="#fff"/>
<path d="M354.86,307.80 H359.26"/>
</g>
<g stroke="#9c1a2e" stroke-width="1.6" fill="none">
<path d="M364.63,274.80 V280.20 M362.73,274.80 H366.53"/>
<path d="M364.63,288.30 V289.00 M362.73,289.00 H366.53"/>
<rect x="362.43" y="280.20" width="4.40" height="8.10" fill="#fff"/>
<path d="M362.43,284.00 H366.83"/>
</g>
<circle cx="359.53" cy="270.10" r="0.95" fill="#b82236"/>
<circle cx="362.93" cy="270.10" r="0.95" fill="#b82236"/>
<circle cx="366.33" cy="270.10" r="0.95" fill="#b82236"/>
<circle cx="369.73" cy="270.10" r="0.95" fill="#b82236"/>
<g stroke="#151515" stroke-width="1.6" fill="none">
<path d="M372.20,305.80 V307.10 M370.30,305.80 H374.10"/>
<path d="M372.20,316.50 V319.20 M370.30,319.20 H374.10"/>
<rect x="370.00" y="307.10" width="4.40" height="9.40" fill="#fff"/>
<path d="M370.00,311.50 H374.40"/>
</g>
<g stroke="#151515" stroke-width="1.6" fill="none">
<path d="M379.77,293.50 V294.30 M377.87,293.50 H381.67"/>
<path d="M379.77,299.70 V303.30 M377.87,303.30 H381.67"/>
<rect x="377.57" y="294.30" width="4.40" height="5.40" fill="#444"/>
<path d="M377.57,297.00 H381.97"/>
</g>
<circle cx="374.67" cy="291.40" r="0.95" fill="#b82236"/>
<circle cx="378.07" cy="291.40" r="0.95" fill="#b82236"/>
<circle cx="381.47" cy="291.40" r="0.95" fill="#b82236"/>
<circle cx="384.87" cy="291.40" r="0.95" fill="#b82236"/>
<g stroke="#151515" stroke-width="1.6" fill="none">
<path d="M387.34,315.20 V317.90 M385.44,317.90 H389.24"/>
<rect x="385.14" y="311.80" width="4.40" height="3.40" fill="#444"/>
<path d="M385.14,313.50 H389.54"/>
</g>
<g stroke="#151515" stroke-width="1.6" fill="none">
<rect x="392.71" y="310.50" width="4.40" height="4.00" fill="#444"/>
<path d="M392.71,312.50 H397.11"/>
</g>
<g stroke="#151515" stroke-width="1.6" fill="none">
<rect x="400.28" y="311.00" width="4.40" height="1.60" fill="#444"/>
<path d="M400.28,311.80 H404.68"/>
</g>
<g stroke="#9c1a2e" stroke-width="1.6" fill="none">
<path d="M410.05,299.70 V304.40 M408.15,299.70 H411.95"/>
<rect x="407.85" y="304.40" width="4.40" height="3.80" fill="#9c1a2e"/>
<path d="M407.85,306.30 H412.25"/>
</g>
<circle cx="410.05" cy="297.00" r="0.95" fill="#b82236"/>
<g stroke="#151515" stroke-width="1.6" fill="none">
<rect x="415.42" y="307.80" width="4.40" height="7.10" fill="#fff"/>
<path d="M415.42,311.30 H419.82"/>
</g>
<g stroke="#151515" stroke-width="1.6" fill="none">
<path d="M425.19,300.40 V307.80 M423.29,300.40 H427.09"/>
<rect x="422.99" y="307.80" width="4.40" height="5.80" fill="#444"/>
<path d="M422.99,310.70 H427.39"/>
</g>
<g stroke="#151515" stroke-width="1.6" fill="none">
<rect x="430.56" y="312.80" width="4.40" height="3.10" fill="#444"/>
<path d="M430.56,314.30 H434.96"/>
</g>
<g stroke="#151515" stroke-width="1.6" fill="none">
<rect x="438.13" y="306.00" width="4.40" height="5.80" fill="#444"/>
<path d="M438.13,309.00 H442.53"/>
</g>
<g stroke="#9c1a2e" stroke-width="1.6" fill="none">
<path d="M447.90,286.90 V292.30 M446.00,286.90 H449.80"/>
<path d="M447.90,307.80 V311.10 M446.00,311.10 H449.80"/>
<rect x="445.70" y="292.30" width="4.40" height="15.50" fill="#fff"/>
<path d="M445.70,303.10 H450.10"/>
</g>
<circle cx="447.90" cy="282.90" r="0.95" fill="#b82236"/>
<g stroke="#9c1a2e" stroke-width="1.6" fill="none">
<path d="M455.47,289.80 V290.70 M453.57,289.80 H457.37"/>
<path d="M455.47,299.00 V300.00 M453.57,300.00 H457.37"/>
<rect x="453.27" y="290.70" width="4.40" height="8.30" fill="#fff"/>
<path d="M453.27,295.00 H457.67"/>
</g>
<circle cx="450.37" cy="287.60" r="0.95" fill="#b82236"/>
<circle cx="453.77" cy="287.60" r="0.95" fill="#b82236"/>
<circle cx="457.17" cy="287.60" r="0.95" fill="#b82236"/>
<circle cx="460.57" cy="287.60" r="0.95" fill="#b82236"/>
<g stroke="#151515" stroke-width="1.6" fill="none">
<path d="M463.04,290.70 V298.40 M461.14,290.70 H464.94"/>
<path d="M463.04,310.90 V317.90 M461.14,317.90 H464.94"/>
<rect x="460.84" y="298.40" width="4.40" height="12.50" fill="#fff"/>
<path d="M460.84,305.80 H465.24"/>
</g>
<g stroke="#151515" stroke-width="1.6" fill="none">
<path d="M470.61,288.30 V290.70 M468.71,288.30 H472.51"/>
<path d="M470.61,300.10 V301.00 M468.71,301.00 H472.51"/>
<rect x="468.41" y="290.70" width="4.40" height="9.40" fill="#fff"/>
<path d="M468.41,295.00 H472.81"/>
</g>
<circle cx="465.51" cy="285.30" r="0.95" fill="#b82236"/>
<circle cx="468.91" cy="285.30" r="0.95" fill="#b82236"/>
<circle cx="472.31" cy="285.30" r="0.95" fill="#b82236"/>
<circle cx="475.71" cy="285.30" r="0.95" fill="#b82236"/>
<g stroke="#151515" stroke-width="1.6" fill="none">
<path d="M478.18,303.30 V312.20 M476.28,303.30 H480.08"/>
<path d="M478.18,314.50 V317.20 M476.28,317.20 H480.08"/>
<rect x="475.98" y="312.20" width="4.40" height="2.30" fill="#444"/>
<path d="M475.98,313.30 H480.38"/>
</g>
<g stroke="#151515" stroke-width="1.6" fill="none">
<rect x="483.55" y="307.40" width="4.40" height="3.10" fill="#444"/>
<path d="M483.55,309.00 H487.95"/>
</g>
<g stroke="#151515" stroke-width="1.6" fill="none">
<path d="M493.32,300.40 V302.40 M491.42,300.40 H495.22"/>
<path d="M493.32,315.20 V316.00 M491.42,316.00 H495.22"/>
<rect x="491.12" y="302.40" width="4.40" height="12.80" fill="#fff"/>
<path d="M491.12,309.00 H495.52"/>
</g>
<g stroke="#151515" stroke-width="1.6" fill="none">
<rect x="498.69" y="305.10" width="4.40" height="8.10" fill="#fff"/>
<path d="M498.69,309.00 H503.09"/>
</g>
<text transform="translate(298.90,331.2) rotate(-90)" font-size="6" fill="#222" text-anchor="end">5F</text>
<text transform="translate(306.47,331.2) rotate(-90)" font-size="6" fill="#222" text-anchor="end">5R</text>
<text transform="translate(314.04,331.2) rotate(-90)" font-size="6" fill="#222" text-anchor="end">6F</text>
<text transform="translate(321.61,331.2) rotate(-90)" font-size="6" fill="#222" text-anchor="end">6R</text>
<text transform="translate(329.18,331.2) rotate(-90)" font-size="6" fill="#222" text-anchor="end">7.1F</text>
<text transform="translate(336.75,331.2) rotate(-90)" font-size="6" fill="#222" text-anchor="end">7.1R</text>
<text transform="translate(344.32,331.2) rotate(-90)" font-size="6" fill="#222" text-anchor="end">7.2F</text>
<text transform="translate(351.89,331.2) rotate(-90)" font-size="6" fill="#222" text-anchor="end">7.2R</text>
<text transform="translate(359.46,331.2) rotate(-90)" font-size="6" fill="#222" text-anchor="end">7.3F</text>
<text transform="translate(367.03,331.2) rotate(-90)" font-size="6" fill="#222" text-anchor="end">7.3R</text>
<text transform="translate(374.60,331.2) rotate(-90)" font-size="6" fill="#222" text-anchor="end">7.4F</text>
<text transform="translate(382.17,331.2) rotate(-90)" font-size="6" fill="#222" text-anchor="end">7.4R</text>
<text transform="translate(389.74,331.2) rotate(-90)" font-size="6" fill="#222" text-anchor="end">7.5F</text>
<text transform="translate(397.31,331.2) rotate(-90)" font-size="6" fill="#222" text-anchor="end">7.5R</text>
<text transform="translate(404.88,331.2) rotate(-90)" font-size="6" fill="#222" text-anchor="end">7.6F</text>
<text transform="translate(412.45,331.2) rotate(-90)" font-size="6" fill="#222" text-anchor="end">7.6R</text>
<text transform="translate(420.02,331.2) rotate(-90)" font-size="6" fill="#222" text-anchor="end">7.7F</text>
<text transform="translate(427.59,331.2) rotate(-90)" font-size="6" fill="#222" text-anchor="end">7.7R</text>
<text transform="translate(435.16,331.2) rotate(-90)" font-size="6" fill="#222" text-anchor="end">7.8F</text>
<text transform="translate(442.73,331.2) rotate(-90)" font-size="6" fill="#222" text-anchor="end">7.8R</text>
<text transform="translate(450.30,331.2) rotate(-90)" font-size="6" fill="#222" text-anchor="end">8F</text>
<text transform="translate(457.87,331.2) rotate(-90)" font-size="6" fill="#222" text-anchor="end">8R</text>
<text transform="translate(465.44,331.2) rotate(-90)" font-size="6" fill="#222" text-anchor="end">11F</text>
<text transform="translate(473.01,331.2) rotate(-90)" font-size="6" fill="#222" text-anchor="end">11R</text>
<text transform="translate(480.58,331.2) rotate(-90)" font-size="6" fill="#222" text-anchor="end">12F</text>
<text transform="translate(488.15,331.2) rotate(-90)" font-size="6" fill="#222" text-anchor="end">12R</text>
<text transform="translate(495.72,331.2) rotate(-90)" font-size="6" fill="#222" text-anchor="end">CF</text>
<text transform="translate(503.29,331.2) rotate(-90)" font-size="6" fill="#222" text-anchor="end">CR</text>
<line x1="294.50" y1="348.50" x2="306.07" y2="348.50" stroke="#555" stroke-width="0.8" />
<text x="300.28" y="355.00" font-size="6.8" fill="#222" text-anchor="middle" font-weight="normal"  style="">5</text>
<line x1="309.64" y1="348.50" x2="321.21" y2="348.50" stroke="#555" stroke-width="0.8" />
<text x="315.42" y="355.00" font-size="6.8" fill="#222" text-anchor="middle" font-weight="normal"  style="">6</text>
<line x1="324.78" y1="348.50" x2="442.33" y2="348.50" stroke="#555" stroke-width="0.8" />
<text x="383.56" y="355.00" font-size="6.8" fill="#222" text-anchor="middle" font-weight="normal"  style="">7</text>
<line x1="445.90" y1="348.50" x2="457.47" y2="348.50" stroke="#555" stroke-width="0.8" />
<text x="451.69" y="355.00" font-size="6.8" fill="#222" text-anchor="middle" font-weight="normal"  style="">8</text>
<line x1="461.04" y1="348.50" x2="472.61" y2="348.50" stroke="#555" stroke-width="0.8" />
<text x="466.83" y="355.00" font-size="6.8" fill="#222" text-anchor="middle" font-weight="normal"  style="">11</text>
<line x1="476.18" y1="348.50" x2="487.75" y2="348.50" stroke="#555" stroke-width="0.8" />
<text x="481.97" y="355.00" font-size="6.8" fill="#222" text-anchor="middle" font-weight="normal"  style="">12</text>
<text transform="translate(70.5,0) rotate(-90)" font-size="0"></text>
<text transform="translate(42,253) rotate(-90)" font-size="7.3" font-weight="bold" fill="#111" text-anchor="middle">Relative luciferase levels</text>
<text transform="translate(51.6,253) rotate(-90)" font-size="7.3" font-weight="bold" fill="#111" text-anchor="middle">fold change over control</text>
<text x="62.00" y="344.20" font-size="6.4" fill="#222" text-anchor="end" font-weight="normal"  style="">Tile (orientation):</text>
<text x="62.50" y="355.00" font-size="6.6" fill="#222" text-anchor="end" font-weight="normal"  style="">Region:</text>
<text x="253.50" y="201.00" font-size="6.8" font-style="italic" text-decoration="underline" fill="#111" text-anchor="middle"><tspan font-style="italic">P</tspan> value</text>
<circle cx="247.40" cy="207.40" r="0.95" fill="#6a1a28"/>
<text x="249.10" y="209.60" font-size="6.6" fill="#111" text-anchor="start" font-weight="normal"  style="">&lt; 0.05</text>
<circle cx="244.00" cy="215.10" r="0.95" fill="#6a1a28"/>
<circle cx="247.40" cy="215.10" r="0.95" fill="#6a1a28"/>
<text x="249.10" y="217.30" font-size="6.6" fill="#111" text-anchor="start" font-weight="normal"  style="">&lt; 0.01</text>
<circle cx="240.60" cy="222.80" r="0.95" fill="#6a1a28"/>
<circle cx="244.00" cy="222.80" r="0.95" fill="#6a1a28"/>
<circle cx="247.40" cy="222.80" r="0.95" fill="#6a1a28"/>
<text x="249.10" y="225.00" font-size="6.6" fill="#111" text-anchor="start" font-weight="normal"  style="">&lt; 0.001</text>
<circle cx="237.20" cy="230.50" r="0.95" fill="#6a1a28"/>
<circle cx="240.60" cy="230.50" r="0.95" fill="#6a1a28"/>
<circle cx="244.00" cy="230.50" r="0.95" fill="#6a1a28"/>
<circle cx="247.40" cy="230.50" r="0.95" fill="#6a1a28"/>
<text x="249.10" y="232.70" font-size="6.6" fill="#111" text-anchor="start" font-weight="normal"  style="">&lt; 0.0001</text>
<text x="486.00" y="201.00" font-size="6.8" font-style="italic" text-decoration="underline" fill="#111" text-anchor="middle"><tspan font-style="italic">P</tspan> value</text>
<circle cx="479.90" cy="207.40" r="0.95" fill="#6a1a28"/>
<text x="481.60" y="209.60" font-size="6.6" fill="#111" text-anchor="start" font-weight="normal"  style="">&lt; 0.05</text>
<circle cx="476.50" cy="215.10" r="0.95" fill="#6a1a28"/>
<circle cx="479.90" cy="215.10" r="0.95" fill="#6a1a28"/>
<text x="481.60" y="217.30" font-size="6.6" fill="#111" text-anchor="start" font-weight="normal"  style="">&lt; 0.01</text>
<circle cx="473.10" cy="222.80" r="0.95" fill="#6a1a28"/>
<circle cx="476.50" cy="222.80" r="0.95" fill="#6a1a28"/>
<circle cx="479.90" cy="222.80" r="0.95" fill="#6a1a28"/>
<text x="481.60" y="225.00" font-size="6.6" fill="#111" text-anchor="start" font-weight="normal"  style="">&lt; 0.001</text>
<circle cx="469.70" cy="230.50" r="0.95" fill="#6a1a28"/>
<circle cx="473.10" cy="230.50" r="0.95" fill="#6a1a28"/>
<circle cx="476.50" cy="230.50" r="0.95" fill="#6a1a28"/>
<circle cx="479.90" cy="230.50" r="0.95" fill="#6a1a28"/>
<text x="481.60" y="232.70" font-size="6.6" fill="#111" text-anchor="start" font-weight="normal"  style="">&lt; 0.0001</text>
<text x="66.30" y="377.20" font-size="16.6" fill="#000" text-anchor="start" font-weight="bold"  style="">C</text>
<text x="255.20" y="377.30" font-size="16.6" fill="#000" text-anchor="start" font-weight="bold"  style="">D</text>
<text x="110.40" y="376.60" font-size="5.4" fill="#4a5a9a" text-anchor="middle" font-weight="normal"  style="">T6F</text>
<line x1="99.60" y1="379.90" x2="124.20" y2="379.90" stroke="#7880a8" stroke-width="1.1" />
<text x="150.40" y="376.60" font-size="5.4" fill="#4a5a9a" text-anchor="middle" font-weight="normal"  style="">T7 2F</text>
<line x1="136.20" y1="379.90" x2="171.60" y2="379.90" stroke="#7880a8" stroke-width="1.1" />
<text x="214.40" y="376.60" font-size="5.4" fill="#4a5a9a" text-anchor="middle" font-weight="normal"  style="">T8F</text>
<line x1="190.40" y1="379.90" x2="241.20" y2="379.90" stroke="#7880a8" stroke-width="1.1" />
<text x="287.00" y="376.60" font-size="5.4" fill="#4a5a9a" text-anchor="middle" font-weight="normal"  style="">T6R</text>
<line x1="279.60" y1="379.90" x2="298.40" y2="379.90" stroke="#7880a8" stroke-width="1.1" />
<text x="315.70" y="376.60" font-size="5.4" fill="#4a5a9a" text-anchor="middle" font-weight="normal"  style="">T7.2R</text>
<line x1="306.50" y1="379.90" x2="331.20" y2="379.90" stroke="#7880a8" stroke-width="1.1" />
<text x="342.70" y="376.60" font-size="5.4" fill="#4a5a9a" text-anchor="middle" font-weight="normal"  style="">T7.3R</text>
<line x1="336.50" y1="379.90" x2="352.00" y2="379.90" stroke="#7880a8" stroke-width="1.1" />
<text x="372.00" y="376.60" font-size="5.4" fill="#4a5a9a" text-anchor="middle" font-weight="normal"  style="">T7.6R</text>
<line x1="359.00" y1="379.90" x2="383.70" y2="379.90" stroke="#7880a8" stroke-width="1.1" />
<text x="410.00" y="376.60" font-size="5.4" fill="#4a5a9a" text-anchor="middle" font-weight="normal"  style="">T8F</text>
<line x1="389.80" y1="379.90" x2="431.70" y2="379.90" stroke="#7880a8" stroke-width="1.1" />
<g stroke="#000" stroke-width="1.15" fill="none"><path d="M93.4,388.3 H95 V472 H246"/>
<path d="M93.4,455.26 H95"/>
<path d="M93.4,438.52 H95"/>
<path d="M93.4,421.78 H95"/>
<path d="M93.4,405.04 H95"/>
<path d="M93.4,388.30 H95"/>
<path d="M112.40,472 V473.6"/>
<path d="M146.20,472 V473.6"/>
<path d="M162.70,472 V473.6"/>
<path d="M195.50,472 V473.6"/>
<path d="M212.80,472 V473.6"/>
<path d="M230.00,472 V473.6"/>
</g>
<text x="92.00" y="473.50" font-size="4.4" fill="#222" text-anchor="end" font-weight="bold"  style="">0</text>
<text x="92.00" y="456.76" font-size="4.4" fill="#222" text-anchor="end" font-weight="bold"  style="">0.4</text>
<text x="92.00" y="440.02" font-size="4.4" fill="#222" text-anchor="end" font-weight="bold"  style="">0.8</text>
<text x="92.00" y="423.28" font-size="4.4" fill="#222" text-anchor="end" font-weight="bold"  style="">1.2</text>
<text x="92.00" y="406.54" font-size="4.4" fill="#222" text-anchor="end" font-weight="bold"  style="">1.6</text>
<text x="92.00" y="389.80" font-size="4.4" fill="#222" text-anchor="end" font-weight="bold"  style="">2</text>
<g stroke="#000" stroke-width="1.15" fill="none"><path d="M93.4,482.3 H95 V566 H246"/>
<path d="M93.4,549.26 H95"/>
<path d="M93.4,532.52 H95"/>
<path d="M93.4,515.78 H95"/>
<path d="M93.4,499.04 H95"/>
<path d="M93.4,482.30 H95"/>
<path d="M112.40,566 V567.6"/>
<path d="M146.20,566 V567.6"/>
<path d="M162.70,566 V567.6"/>
<path d="M195.50,566 V567.6"/>
<path d="M212.80,566 V567.6"/>
<path d="M230.00,566 V567.6"/>
</g>
<text x="92.00" y="567.50" font-size="4.4" fill="#222" text-anchor="end" font-weight="bold"  style="">0</text>
<text x="92.00" y="550.76" font-size="4.4" fill="#222" text-anchor="end" font-weight="bold"  style="">0.4</text>
<text x="92.00" y="534.02" font-size="4.4" fill="#222" text-anchor="end" font-weight="bold"  style="">0.8</text>
<text x="92.00" y="517.28" font-size="4.4" fill="#222" text-anchor="end" font-weight="bold"  style="">1.2</text>
<text x="92.00" y="500.54" font-size="4.4" fill="#222" text-anchor="end" font-weight="bold"  style="">1.6</text>
<text x="92.00" y="483.80" font-size="4.4" fill="#222" text-anchor="end" font-weight="bold"  style="">2</text>
<g stroke="#000" stroke-width="1.15" fill="none"><path d="M277.9,388.3 H279.5 V472.3 H430.5"/>
<path d="M277.9,455.50 H279.5"/>
<path d="M277.9,438.70 H279.5"/>
<path d="M277.9,421.90 H279.5"/>
<path d="M277.9,405.10 H279.5"/>
<path d="M277.9,388.30 H279.5"/>
<path d="M290.60,472.3 V473.90000000000003"/>
<path d="M311.70,472.3 V473.90000000000003"/>
<path d="M322.80,472.3 V473.90000000000003"/>
<path d="M344.20,472.3 V473.90000000000003"/>
<path d="M365.80,472.3 V473.90000000000003"/>
<path d="M376.60,472.3 V473.90000000000003"/>
<path d="M398.20,472.3 V473.90000000000003"/>
<path d="M409.00,472.3 V473.90000000000003"/>
<path d="M419.40,472.3 V473.90000000000003"/>
</g>
<text x="276.50" y="473.80" font-size="4.4" fill="#222" text-anchor="end" font-weight="bold"  style="">0</text>
<text x="276.50" y="457.00" font-size="4.4" fill="#222" text-anchor="end" font-weight="bold"  style="">0.4</text>
<text x="276.50" y="440.20" font-size="4.4" fill="#222" text-anchor="end" font-weight="bold"  style="">0.8</text>
<text x="276.50" y="423.40" font-size="4.4" fill="#222" text-anchor="end" font-weight="bold"  style="">1.2</text>
<text x="276.50" y="406.60" font-size="4.4" fill="#222" text-anchor="end" font-weight="bold"  style="">1.6</text>
<text x="276.50" y="389.80" font-size="4.4" fill="#222" text-anchor="end" font-weight="bold"  style="">2</text>
<g stroke="#000" stroke-width="1.15" fill="none"><path d="M277.9,482.3 H279.5 V566.3 H430.5"/>
<path d="M277.9,549.50 H279.5"/>
<path d="M277.9,532.70 H279.5"/>
<path d="M277.9,515.90 H279.5"/>
<path d="M277.9,499.10 H279.5"/>
<path d="M277.9,482.30 H279.5"/>
<path d="M290.60,566.3 V567.9"/>
<path d="M311.70,566.3 V567.9"/>
<path d="M322.80,566.3 V567.9"/>
<path d="M344.20,566.3 V567.9"/>
<path d="M365.80,566.3 V567.9"/>
<path d="M376.60,566.3 V567.9"/>
<path d="M398.20,566.3 V567.9"/>
<path d="M409.00,566.3 V567.9"/>
<path d="M419.40,566.3 V567.9"/>
</g>
<text x="276.50" y="567.80" font-size="4.4" fill="#222" text-anchor="end" font-weight="bold"  style="">0</text>
<text x="276.50" y="551.00" font-size="4.4" fill="#222" text-anchor="end" font-weight="bold"  style="">0.4</text>
<text x="276.50" y="534.20" font-size="4.4" fill="#222" text-anchor="end" font-weight="bold"  style="">0.8</text>
<text x="276.50" y="517.40" font-size="4.4" fill="#222" text-anchor="end" font-weight="bold"  style="">1.2</text>
<text x="276.50" y="500.60" font-size="4.4" fill="#222" text-anchor="end" font-weight="bold"  style="">1.6</text>
<text x="276.50" y="483.80" font-size="4.4" fill="#222" text-anchor="end" font-weight="bold"  style="">2</text>
<text transform="translate(80.5,430) rotate(-90)" font-size="4.0" font-weight="bold" fill="#222" text-anchor="middle">Fold change over reference allele</text>
<text transform="translate(80.5,524) rotate(-90)" font-size="4.0" font-weight="bold" fill="#222" text-anchor="middle">Fold change over reference allele</text>
<text transform="translate(265,430) rotate(-90)" font-size="4.0" font-weight="bold" fill="#222" text-anchor="middle">Fold change over reference allele</text>
<text transform="translate(265,524) rotate(-90)" font-size="4.0" font-weight="bold" fill="#222" text-anchor="middle">Fold change over reference allele</text>
<text x="239.00" y="470.00" font-size="4.6" fill="#222" text-anchor="end" font-weight="normal"  style="">Forward replicate 1</text>
<text x="240.00" y="563.80" font-size="4.6" fill="#222" text-anchor="end" font-weight="normal"  style="">Forward replicate 2</text>
<line x1="129.00" y1="385.00" x2="129.00" y2="566.00" stroke="#b04858" stroke-width="1.2" stroke-dasharray="1 1"/>
<line x1="178.60" y1="385.00" x2="178.60" y2="566.00" stroke="#b04858" stroke-width="1.2" stroke-dasharray="1 1"/>
<line x1="301.50" y1="385.00" x2="301.50" y2="566.00" stroke="#b04858" stroke-width="1.2" stroke-dasharray="1 1"/>
<line x1="334.20" y1="385.00" x2="334.20" y2="566.00" stroke="#b04858" stroke-width="1.2" stroke-dasharray="1 1"/>
<line x1="355.30" y1="385.00" x2="355.30" y2="566.00" stroke="#b04858" stroke-width="1.2" stroke-dasharray="1 1"/>
<line x1="387.70" y1="385.00" x2="387.70" y2="566.00" stroke="#b04858" stroke-width="1.2" stroke-dasharray="1 1"/>
<g stroke="#333" stroke-width="0.8" fill="none"><path d="M104.20,425.70 V435.80" stroke="#2a2a2a"/><rect x="100.70" y="426.60" width="7.00" height="5.50" fill="#fff"/><path d="M100.70,430.30 H107.70"/></g>
<g stroke="#4a0a10" stroke-width="0.8" fill="none"><path d="M121.20,408.90 V430.30" stroke="#2a2a2a"/><rect x="117.70" y="411.40" width="7.00" height="7.90" fill="#e3211f"/><path d="M117.70,415.60 H124.70"/></g>
<path d="M138.00,423.90 V434.80 M134.50,430.30 H141.50" stroke="#333" stroke-width="0.9" fill="none"/>
<g stroke="#4a0a10" stroke-width="0.8" fill="none"><path d="M154.10,402.90 V424.80" stroke="#2a2a2a"/><rect x="150.60" y="408.30" width="7.00" height="8.30" fill="#e3211f"/><path d="M150.60,411.40 H157.60"/></g>
<g stroke="#333" stroke-width="0.8" fill="none"><path d="M170.90,412.50 V437.60" stroke="#2a2a2a"/><rect x="167.40" y="423.90" width="7.00" height="10.60" fill="#fff"/><path d="M167.40,432.10 H174.40"/></g>
<g stroke="#333" stroke-width="0.8" fill="none"><path d="M187.60,414.50 V439.60" stroke="#2a2a2a"/><rect x="184.10" y="428.30" width="7.00" height="5.20" fill="#fff"/><path d="M184.10,431.00 H191.10"/></g>
<g stroke="#4a0a10" stroke-width="0.8" fill="none"><path d="M204.30,387.70 V419.70" stroke="#2a2a2a"/><rect x="200.80" y="399.80" width="7.00" height="12.10" fill="#e3211f"/><path d="M200.80,407.60 H207.80"/></g>
<g stroke="#4a0a10" stroke-width="0.8" fill="none"><path d="M221.20,396.00 V421.40" stroke="#2a2a2a"/><rect x="217.70" y="405.80" width="7.00" height="12.70" fill="#e3211f"/><path d="M217.70,413.60 H224.70"/></g>
<g stroke="#4a0a10" stroke-width="0.8" fill="none"><path d="M237.50,400.10 V418.00" stroke="#2a2a2a"/><rect x="234.00" y="405.30" width="7.00" height="5.20" fill="#e3211f"/><path d="M234.00,407.60 H241.00"/></g>
<text x="118.50" y="389.10" font-size="4.2" fill="#e02a2a" text-anchor="middle" font-weight="bold"  style="">0.00018</text>
<text x="121.20" y="396.60" font-size="5.4" fill="#e02a2a" text-anchor="middle" font-weight="bold"  style="">*</text>
<text x="152.60" y="389.10" font-size="4.2" fill="#e02a2a" text-anchor="middle" font-weight="bold"  style="">0.00053</text>
<text x="154.10" y="396.60" font-size="5.4" fill="#e02a2a" text-anchor="middle" font-weight="bold"  style="">*</text>
<text x="204.30" y="426.50" font-size="5.4" fill="#e02a2a" text-anchor="middle" font-weight="bold"  style="">*</text>
<text x="204.60" y="429.70" font-size="4.2" fill="#e02a2a" text-anchor="middle" font-weight="bold"  style="">0.00010</text>
<text x="219.00" y="388.70" font-size="4.2" fill="#e02a2a" text-anchor="middle" font-weight="bold"  style="">0.00055</text>
<text x="221.20" y="395.90" font-size="5.4" fill="#e02a2a" text-anchor="middle" font-weight="bold"  style="">*</text>
<text x="237.50" y="426.50" font-size="5.4" fill="#e02a2a" text-anchor="middle" font-weight="bold"  style="">*</text>
<text x="233.80" y="429.70" font-size="4.2" fill="#e02a2a" text-anchor="middle" font-weight="bold"  style="">0.00004</text>
<g stroke="#333" stroke-width="0.8" fill="none"><path d="M104.20,509.70 V535.30" stroke="#2a2a2a"/><rect x="100.70" y="517.40" width="7.00" height="12.40" fill="#fff"/><path d="M100.70,524.70 H107.70"/></g>
<g stroke="#333" stroke-width="0.8" fill="none"><path d="M120.60,517.40 V538.10" stroke="#2a2a2a"/><rect x="117.10" y="522.20" width="7.00" height="8.00" fill="#fff"/><path d="M117.10,527.10 H124.10"/></g>
<g stroke="#333" stroke-width="0.8" fill="none"><path d="M137.70,516.10 V529.80" stroke="#2a2a2a"/><rect x="134.20" y="520.30" width="7.00" height="8.10" fill="#fff"/><path d="M134.20,522.90 H141.20"/></g>
<g stroke="#333" stroke-width="0.8" fill="none"><path d="M154.50,513.40 V528.00" stroke="#2a2a2a"/><rect x="151.00" y="515.60" width="7.00" height="8.40" fill="#fff"/><path d="M151.00,518.90 H158.00"/></g>
<g stroke="#4a0a10" stroke-width="0.8" fill="none"><path d="M170.00,527.10 V536.20" stroke="#2a2a2a"/><rect x="166.50" y="529.80" width="7.00" height="4.60" fill="#e3211f"/><path d="M166.50,532.00 H173.50"/></g>
<g stroke="#333" stroke-width="0.8" fill="none"><path d="M188.10,513.90 V530.50" stroke="#2a2a2a"/><rect x="184.60" y="520.70" width="7.00" height="6.30" fill="#fff"/><path d="M184.60,524.00 H191.60"/></g>
<g stroke="#4a0a10" stroke-width="0.8" fill="none"><path d="M204.40,489.30 V503.00" stroke="#2a2a2a"/><rect x="200.90" y="491.80" width="7.00" height="4.40" fill="#e3211f"/><path d="M200.90,494.00 H207.90"/></g>
<g stroke="#4a0a10" stroke-width="0.8" fill="none"><path d="M220.70,488.30 V511.30" stroke="#2a2a2a"/><rect x="217.20" y="492.20" width="7.00" height="9.90" fill="#e3211f"/><path d="M217.20,497.20 H224.20"/></g>
<g stroke="#4a0a10" stroke-width="0.8" fill="none"><path d="M237.20,486.90 V503.40" stroke="#2a2a2a"/><rect x="233.70" y="493.60" width="7.00" height="7.90" fill="#e3211f"/><path d="M233.70,497.20 H240.70"/></g>
<text x="170.00" y="543.80" font-size="5.4" fill="#e02a2a" text-anchor="middle" font-weight="bold"  style="">*</text>
<text x="168.20" y="549.90" font-size="4.2" fill="#e02a2a" text-anchor="middle" font-weight="bold"  style="">0.01000</text>
<text x="204.40" y="510.80" font-size="5.4" fill="#e02a2a" text-anchor="middle" font-weight="bold"  style="">*</text>
<text x="207.60" y="513.90" font-size="4.2" fill="#e02a2a" text-anchor="middle" font-weight="bold"  style="">6.19 x 10<tspan font-size="2.6" dy="-1.5">-5</tspan></text>
<text x="218.80" y="480.50" font-size="4.2" fill="#e02a2a" text-anchor="middle" font-weight="bold"  style="">0.00012</text>
<text x="220.70" y="486.80" font-size="5.4" fill="#e02a2a" text-anchor="middle" font-weight="bold"  style="">*</text>
<text x="237.20" y="510.80" font-size="5.4" fill="#e02a2a" text-anchor="middle" font-weight="bold"  style="">*</text>
<text x="236.60" y="513.90" font-size="4.2" fill="#e02a2a" text-anchor="middle" font-weight="bold"  style="">5.23 x 10<tspan font-size="2.6" dy="-1.5">-5</tspan></text>
<g stroke="#333" stroke-width="0.8" fill="none"><path d="M285.20,422.40 V439.70" stroke="#2a2a2a"/><rect x="282.90" y="428.40" width="4.60" height="4.40" fill="#fff"/><path d="M282.90,430.60 H287.50"/></g>
<g stroke="#4a0a10" stroke-width="0.8" fill="none"><path d="M296.00,427.60 V446.60" stroke="#2a2a2a"/><rect x="293.70" y="438.00" width="4.60" height="4.60" fill="#c41d2e"/><path d="M293.70,440.30 H298.30"/></g>
<g stroke="#333" stroke-width="0.8" fill="none"><path d="M306.30,426.70 V441.40" stroke="#2a2a2a"/><rect x="304.00" y="427.00" width="4.60" height="5.80" fill="#fff"/><path d="M304.00,430.00 H308.60"/></g>
<g stroke="#333" stroke-width="0.8" fill="none"><path d="M317.10,425.80 V438.80" stroke="#2a2a2a"/><rect x="314.80" y="431.60" width="4.60" height="5.50" fill="#fff"/><path d="M314.80,434.30 H319.40"/></g>
<g stroke="#333" stroke-width="0.8" fill="none"><path d="M328.50,428.40 V441.40" stroke="#2a2a2a"/><rect x="326.20" y="431.00" width="4.60" height="7.50" fill="#fff"/><path d="M326.20,434.70 H330.80"/></g>
<g stroke="#333" stroke-width="0.8" fill="none"><path d="M338.90,425.80 V435.00" stroke="#2a2a2a"/><rect x="336.60" y="429.30" width="4.60" height="3.50" fill="#fff"/><path d="M336.60,431.00 H341.20"/></g>
<g stroke="#4a0a10" stroke-width="0.8" fill="none"><path d="M349.60,433.30 V446.60" stroke="#2a2a2a"/><rect x="347.30" y="439.70" width="4.60" height="4.00" fill="#c41d2e"/><path d="M347.30,441.70 H351.90"/></g>
<g stroke="#333" stroke-width="0.8" fill="none"><path d="M360.40,426.40 V438.00" stroke="#2a2a2a"/><rect x="358.10" y="428.40" width="4.60" height="5.20" fill="#fff"/><path d="M358.10,431.00 H362.70"/></g>
<g stroke="#333" stroke-width="0.8" fill="none"><path d="M371.10,428.10 V440.90" stroke="#2a2a2a"/><rect x="368.80" y="431.90" width="4.60" height="4.30" fill="#fff"/><path d="M368.80,434.00 H373.40"/></g>
<g stroke="#333" stroke-width="0.8" fill="none"><path d="M382.00,427.60 V441.90" stroke="#2a2a2a"/><rect x="379.70" y="432.20" width="4.60" height="4.90" fill="#fff"/><path d="M379.70,434.60 H384.30"/></g>
<g stroke="#333" stroke-width="0.8" fill="none"><path d="M392.90,426.40 V436.20" stroke="#2a2a2a"/><rect x="390.60" y="427.60" width="4.60" height="4.30" fill="#fff"/><path d="M390.60,429.70 H395.20"/></g>
<g stroke="#333" stroke-width="0.8" fill="none"><path d="M403.60,401.10 V432.80" stroke="#2a2a2a"/><rect x="401.30" y="419.80" width="4.60" height="8.60" fill="#fff"/><path d="M401.30,425.30 H405.90"/></g>
<g stroke="#333" stroke-width="0.8" fill="none"><path d="M414.00,397.00 V435.70" stroke="#2a2a2a"/><rect x="411.70" y="425.80" width="4.60" height="8.20" fill="#fff"/><path d="M411.70,429.30 H416.30"/></g>
<g stroke="#4a0a10" stroke-width="0.8" fill="none"><path d="M424.40,415.50 V429.30" stroke="#2a2a2a"/><rect x="422.10" y="419.40" width="4.60" height="4.70" fill="#c41d2e"/><path d="M422.10,421.70 H426.70"/></g>
<text x="296.00" y="454.00" font-size="5.4" fill="#e02a2a" text-anchor="middle" font-weight="bold"  style="">*</text>
<text x="292.50" y="456.70" font-size="4.2" fill="#e02a2a" text-anchor="middle" font-weight="bold"  style="">0.01900</text>
<text x="349.60" y="454.00" font-size="5.4" fill="#e02a2a" text-anchor="middle" font-weight="bold"  style="">*</text>
<text x="346.10" y="456.70" font-size="4.2" fill="#e02a2a" text-anchor="middle" font-weight="bold"  style="">0.00075</text>
<text x="424.40" y="437.40" font-size="5.4" fill="#e02a2a" text-anchor="middle" font-weight="bold"  style="">*</text>
<text x="419.50" y="442.30" font-size="4.2" fill="#e02a2a" text-anchor="middle" font-weight="bold"  style="">6.16 x 10<tspan font-size="2.6" dy="-1.5">-7</tspan></text>
<g stroke="#333" stroke-width="0.8" fill="none"><path d="M285.60,518.30 V536.40" stroke="#2a2a2a"/><rect x="283.30" y="519.10" width="4.60" height="6.40" fill="#fff"/><path d="M283.30,521.40 H287.90"/></g>
<g stroke="#333" stroke-width="0.8" fill="none"><path d="M296.30,520.00 V530.70" stroke="#2a2a2a"/><rect x="294.00" y="524.80" width="4.60" height="2.40" fill="#fff"/><path d="M294.00,526.00 H298.60"/></g>
<g stroke="#333" stroke-width="0.8" fill="none"><path d="M306.70,508.70 V535.20" stroke="#2a2a2a"/><rect x="304.40" y="520.30" width="4.60" height="10.90" fill="#fff"/><path d="M304.40,521.40 H309.00"/></g>
<g stroke="#333" stroke-width="0.8" fill="none"><path d="M317.10,505.80 V526.00" stroke="#2a2a2a"/><rect x="314.80" y="513.90" width="4.60" height="7.50" fill="#fff"/><path d="M314.80,516.50 H319.40"/></g>
<g stroke="#333" stroke-width="0.8" fill="none"><path d="M328.80,514.40 V533.50" stroke="#2a2a2a"/><rect x="326.50" y="524.30" width="4.60" height="6.40" fill="#fff"/><path d="M326.50,527.80 H331.10"/></g>
<g stroke="#333" stroke-width="0.8" fill="none"><path d="M339.20,513.40 V534.70" stroke="#2a2a2a"/><rect x="336.90" y="521.40" width="4.60" height="5.50" fill="#fff"/><path d="M336.90,524.00 H341.50"/></g>
<g stroke="#333" stroke-width="0.8" fill="none"><path d="M349.90,512.20 V533.00" stroke="#2a2a2a"/><rect x="347.60" y="516.90" width="4.60" height="6.20" fill="#fff"/><path d="M347.60,519.00 H352.20"/></g>
<g stroke="#333" stroke-width="0.8" fill="none"><path d="M360.70,517.40 V526.60" stroke="#2a2a2a"/><rect x="358.40" y="523.40" width="4.60" height="2.10" fill="#fff"/><path d="M358.40,524.40 H363.00"/></g>
<g stroke="#333" stroke-width="0.8" fill="none"><path d="M371.10,513.40 V534.70" stroke="#2a2a2a"/><rect x="368.80" y="515.10" width="4.60" height="8.30" fill="#fff"/><path d="M368.80,519.00 H373.40"/></g>
<g stroke="#333" stroke-width="0.8" fill="none"><path d="M382.00,513.10 V530.00" stroke="#2a2a2a"/><rect x="379.70" y="519.10" width="4.60" height="5.20" fill="#fff"/><path d="M379.70,521.40 H384.30"/></g>
<g stroke="#333" stroke-width="0.8" fill="none"><path d="M392.90,515.10 V533.50" stroke="#2a2a2a"/><rect x="390.60" y="520.30" width="4.60" height="8.30" fill="#fff"/><path d="M390.60,523.80 H395.20"/></g>
<g stroke="#4a0a10" stroke-width="0.8" fill="none"><path d="M403.60,507.50 V526.60" stroke="#2a2a2a"/><rect x="401.30" y="511.30" width="4.60" height="10.80" fill="#e03030"/><path d="M401.30,516.50 H405.90"/></g>
<g stroke="#333" stroke-width="0.8" fill="none"><path d="M414.40,517.40 V530.40" stroke="#2a2a2a"/><rect x="412.10" y="518.30" width="4.60" height="3.40" fill="#fff"/><path d="M412.10,520.00 H416.70"/></g>
<g stroke="#4a0a10" stroke-width="0.8" fill="none"><path d="M424.70,503.50 V517.40" stroke="#2a2a2a"/><rect x="422.40" y="504.80" width="4.60" height="8.60" fill="#e03030"/><path d="M422.40,508.70 H427.00"/></g>
<text x="403.60" y="508.20" font-size="5.4" fill="#e02a2a" text-anchor="middle" font-weight="bold"  style="">*</text>
<text x="400.50" y="500.60" font-size="4.2" fill="#e02a2a" text-anchor="middle" font-weight="bold"  style="">0.03723</text>
<text x="424.70" y="503.50" font-size="5.4" fill="#e02a2a" text-anchor="middle" font-weight="bold"  style="">*</text>
<text x="422.30" y="496.30" font-size="4.2" fill="#e02a2a" text-anchor="middle" font-weight="bold"  style="">0.00686</text>
<text x="104.20" y="571.60" font-size="4.6" fill="#4a5a9a" text-anchor="middle" font-weight="normal"  style="">A</text>
<text x="120.60" y="571.60" font-size="4.6" fill="#c03040" text-anchor="middle" font-weight="normal"  style="">T</text>
<text x="137.70" y="571.60" font-size="4.6" fill="#4a5a9a" text-anchor="middle" font-weight="normal"  style="">GA</text>
<text x="154.50" y="571.60" font-size="4.6" fill="#555" text-anchor="middle" font-weight="normal"  style="">AA</text>
<text x="170.00" y="571.60" font-size="4.6" fill="#a04050" text-anchor="middle" font-weight="normal"  style="">GG</text>
<text x="188.10" y="571.60" font-size="4.6" fill="#4a5a9a" text-anchor="middle" font-weight="normal"  style="">TGA</text>
<text x="204.40" y="571.60" font-size="4.6" fill="#c03040" text-anchor="middle" font-weight="normal"  style="">AGA</text>
<text x="220.70" y="571.60" font-size="4.6" fill="#4a5a9a" text-anchor="middle" font-weight="normal"  style="">TAA</text>
<text x="237.20" y="571.60" font-size="4.6" fill="#667" text-anchor="middle" font-weight="normal"  style="">TGG</text>
<line x1="98.80" y1="573.20" x2="125.80" y2="573.20" stroke="#222" stroke-width="1" />
<line x1="130.40" y1="573.20" x2="176.90" y2="573.20" stroke="#222" stroke-width="1" />
<line x1="182.30" y1="573.20" x2="245.40" y2="573.20" stroke="#222" stroke-width="1" />
<text x="285.60" y="571.60" font-size="4.6" fill="#4050a0" text-anchor="middle" font-weight="normal"  style="">A</text>
<text x="296.30" y="571.60" font-size="4.6" fill="#d02030" text-anchor="middle" font-weight="normal"  style="">T</text>
<text x="306.70" y="571.60" font-size="4.6" fill="#4050a0" text-anchor="middle" font-weight="normal"  style="">GA</text>
<text x="317.10" y="571.60" font-size="4.6" fill="#d02030" text-anchor="middle" font-weight="normal"  style="">AA</text>
<text x="328.80" y="571.60" font-size="4.6" fill="#d02030" text-anchor="middle" font-weight="normal"  style="">GG</text>
<text x="339.20" y="571.60" font-size="4.6" fill="#4050a0" text-anchor="middle" font-weight="normal"  style="">T</text>
<text x="349.90" y="571.60" font-size="4.6" fill="#d02030" text-anchor="middle" font-weight="normal"  style="">G</text>
<text x="361.20" y="571.60" font-size="4.6" fill="#4050a0" text-anchor="middle" font-weight="normal"  style="">TC</text>
<text x="371.60" y="571.60" font-size="4.6" fill="#d02030" text-anchor="middle" font-weight="normal"  style="">CC</text>
<text x="381.50" y="571.60" font-size="4.6" fill="#4050a0" text-anchor="middle" font-weight="normal"  style="">TA</text>
<text x="392.90" y="571.60" font-size="4.6" fill="#4050a0" text-anchor="middle" font-weight="normal"  style="">TGA</text>
<text x="403.60" y="571.60" font-size="4.6" fill="#d02030" text-anchor="middle" font-weight="normal"  style="">AGA</text>
<text x="414.00" y="571.60" font-size="4.6" fill="#4050a0" text-anchor="middle" font-weight="normal"  style="">TAA</text>
<text x="424.70" y="571.60" font-size="4.6" fill="#d02030" text-anchor="middle" font-weight="normal"  style="">TGG</text>
<line x1="280.80" y1="573.60" x2="301.50" y2="573.60" stroke="#444" stroke-width="1.3" />
<line x1="304.60" y1="573.60" x2="331.50" y2="573.60" stroke="#444" stroke-width="1.3" />
<line x1="334.60" y1="573.60" x2="356.20" y2="573.60" stroke="#444" stroke-width="1.3" />
<line x1="358.80" y1="573.60" x2="385.80" y2="573.60" stroke="#444" stroke-width="1.3" />
<line x1="390.40" y1="573.60" x2="430.40" y2="573.60" stroke="#444" stroke-width="1.3" />
<text transform="translate(114.30,575.4) rotate(-90)" font-size="4.5" font-weight="bold" fill="#111" text-anchor="end">rs62541878</text>
<text transform="translate(153.50,575.4) rotate(-90)" font-size="4.5" font-weight="bold" fill="#111" text-anchor="end">rs62541920</text>
<text transform="translate(158.90,575.4) rotate(-90)" font-size="4.5" font-weight="bold" fill="#111" text-anchor="end">rs13279183</text>
<text transform="translate(215.40,575.4) rotate(-90)" font-size="4.5" font-weight="bold" fill="#111" text-anchor="end">rs10810657</text>
<text transform="translate(220.80,575.4) rotate(-90)" font-size="4.5" font-weight="bold" fill="#111" text-anchor="end">rs12350739</text>
<text transform="translate(226.20,575.4) rotate(-90)" font-size="4.5" font-weight="bold" fill="#111" text-anchor="end">rs77507622</text>
<text transform="translate(292.70,575.4) rotate(-90)" font-size="4.5" font-weight="bold" fill="#111" text-anchor="end">rs62541878</text>
<text transform="translate(317.80,575.4) rotate(-90)" font-size="4.5" font-weight="bold" fill="#111" text-anchor="end">rs62541920</text>
<text transform="translate(323.10,575.4) rotate(-90)" font-size="4.5" font-weight="bold" fill="#111" text-anchor="end">rs13279183</text>
<text transform="translate(347.00,575.4) rotate(-90)" font-size="4.5" font-weight="bold" fill="#111" text-anchor="end">rs10962647</text>
<text transform="translate(371.20,575.4) rotate(-90)" font-size="4.5" font-weight="bold" fill="#111" text-anchor="end">rs62541922</text>
<text transform="translate(376.60,575.4) rotate(-90)" font-size="4.5" font-weight="bold" fill="#111" text-anchor="end">rs62541923</text>
<text transform="translate(408.10,575.4) rotate(-90)" font-size="4.5" font-weight="bold" fill="#111" text-anchor="end">rs10810657</text>
<text transform="translate(413.50,575.4) rotate(-90)" font-size="4.5" font-weight="bold" fill="#111" text-anchor="end">rs12350739</text>
<text transform="translate(418.90,575.4) rotate(-90)" font-size="4.5" font-weight="bold" fill="#111" text-anchor="end">rs77507622</text>
<text x="73.60" y="631.40" font-size="16.6" fill="#000" text-anchor="start" font-weight="bold"  style="">E</text>
<text x="102.00" y="629.80" font-size="5.6" fill="#111" text-anchor="start" font-weight="normal"  style="">SNP</text>
<text x="113.20" y="648.20" font-size="5.85" fill="#000" text-anchor="end" font-weight="normal"  style="">Reference allele</text>
<text x="113.20" y="654.40" font-size="5.85" fill="#000" text-anchor="end" font-weight="normal"  style="">Effect allele</text>
<defs>
<linearGradient id="g0" gradientUnits="userSpaceOnUse" x1="0" y1="656" x2="0" y2="802.5">
<stop offset="0.0000" stop-color="#eeeeee"/>
<stop offset="0.0410" stop-color="#e8e8e8"/>
<stop offset="0.1092" stop-color="#dedede"/>
<stop offset="0.1365" stop-color="#d4d4d4"/>
<stop offset="0.1706" stop-color="#e1e1e1"/>
<stop offset="0.2457" stop-color="#c8c8c8"/>
<stop offset="0.3140" stop-color="#bebebe"/>
<stop offset="0.3686" stop-color="#a5a5a5"/>
<stop offset="0.3959" stop-color="#5f5f5f"/>
<stop offset="0.4437" stop-color="#464646"/>
<stop offset="0.4915" stop-color="#5f5f5f"/>
<stop offset="0.5392" stop-color="#4b4b4b"/>
<stop offset="0.5666" stop-color="#787878"/>
<stop offset="0.6007" stop-color="#d7d7d7"/>
<stop offset="0.7509" stop-color="#cdcdcd"/>
<stop offset="0.8123" stop-color="#969696"/>
<stop offset="0.8464" stop-color="#464646"/>
<stop offset="0.8669" stop-color="#1e1e1e"/>
<stop offset="0.9352" stop-color="#1e1e1e"/>
<stop offset="0.9625" stop-color="#6e6e6e"/>
<stop offset="1.0000" stop-color="#969696"/>
</linearGradient>
<linearGradient id="g1" gradientUnits="userSpaceOnUse" x1="0" y1="656" x2="0" y2="802.5">
<stop offset="0.0000" stop-color="#e1e1e1"/>
<stop offset="0.0546" stop-color="#d7d7d7"/>
<stop offset="0.1092" stop-color="#bebebe"/>
<stop offset="0.1638" stop-color="#8c8c8c"/>
<stop offset="0.2048" stop-color="#414141"/>
<stop offset="0.2799" stop-color="#3c3c3c"/>
<stop offset="0.3208" stop-color="#555555"/>
<stop offset="0.3823" stop-color="#464646"/>
<stop offset="0.4505" stop-color="#2a2a2a"/>
<stop offset="0.5461" stop-color="#282828"/>
<stop offset="0.5870" stop-color="#5a5a5a"/>
<stop offset="0.6280" stop-color="#bebebe"/>
<stop offset="0.8123" stop-color="#b4b4b4"/>
<stop offset="0.8532" stop-color="#646464"/>
<stop offset="0.8805" stop-color="#282828"/>
<stop offset="1.0000" stop-color="#2a2a2a"/>
</linearGradient>
<linearGradient id="g2" gradientUnits="userSpaceOnUse" x1="0" y1="656" x2="0" y2="802.5">
<stop offset="0.0000" stop-color="#f6f6f6"/>
<stop offset="0.1229" stop-color="#f0f0f0"/>
<stop offset="0.1570" stop-color="#a5a5a5"/>
<stop offset="0.1980" stop-color="#a0a0a0"/>
<stop offset="0.2321" stop-color="#e8e8e8"/>
<stop offset="0.3549" stop-color="#e2e2e2"/>
<stop offset="0.3823" stop-color="#d2d2d2"/>
<stop offset="0.4232" stop-color="#dedede"/>
<stop offset="0.4642" stop-color="#969696"/>
<stop offset="0.5119" stop-color="#919191"/>
<stop offset="0.5529" stop-color="#f2f2f2"/>
<stop offset="0.7440" stop-color="#f0f0f0"/>
<stop offset="0.8328" stop-color="#bebebe"/>
<stop offset="0.8669" stop-color="#3c3c3c"/>
<stop offset="0.9693" stop-color="#282828"/>
<stop offset="1.0000" stop-color="#464646"/>
</linearGradient>
<linearGradient id="g3" gradientUnits="userSpaceOnUse" x1="0" y1="656" x2="0" y2="802.5">
<stop offset="0.0000" stop-color="#f6f6f6"/>
<stop offset="0.2048" stop-color="#f0f0f0"/>
<stop offset="0.2389" stop-color="#a0a0a0"/>
<stop offset="0.2867" stop-color="#a0a0a0"/>
<stop offset="0.3208" stop-color="#ebebeb"/>
<stop offset="0.3549" stop-color="#e4e4e4"/>
<stop offset="0.3823" stop-color="#d2d2d2"/>
<stop offset="0.4232" stop-color="#dedede"/>
<stop offset="0.4642" stop-color="#737373"/>
<stop offset="0.5119" stop-color="#696969"/>
<stop offset="0.5529" stop-color="#f2f2f2"/>
<stop offset="0.8464" stop-color="#f0f0f0"/>
<stop offset="0.8942" stop-color="#787878"/>
<stop offset="0.9215" stop-color="#323232"/>
<stop offset="0.9693" stop-color="#2d2d2d"/>
<stop offset="1.0000" stop-color="#464646"/>
</linearGradient>
<linearGradient id="g4" gradientUnits="userSpaceOnUse" x1="0" y1="656" x2="0" y2="802.5">
<stop offset="0.0000" stop-color="#dcdcdc"/>
<stop offset="0.0546" stop-color="#c8c8c8"/>
<stop offset="0.1638" stop-color="#b9b9b9"/>
<stop offset="0.3003" stop-color="#a8a8a8"/>
<stop offset="0.3549" stop-color="#9e9e9e"/>
<stop offset="0.3823" stop-color="#a0a0a0"/>
<stop offset="0.4096" stop-color="#5a5a5a"/>
<stop offset="0.4505" stop-color="#464646"/>
<stop offset="0.4846" stop-color="#5f5f5f"/>
<stop offset="0.5188" stop-color="#919191"/>
<stop offset="0.7782" stop-color="#8c8c8c"/>
<stop offset="0.8259" stop-color="#646464"/>
<stop offset="0.8532" stop-color="#232323"/>
<stop offset="0.9215" stop-color="#202020"/>
<stop offset="0.9625" stop-color="#373737"/>
<stop offset="1.0000" stop-color="#414141"/>
</linearGradient>
<linearGradient id="g5" gradientUnits="userSpaceOnUse" x1="0" y1="656" x2="0" y2="802.5">
<stop offset="0.0000" stop-color="#f0f0f0"/>
<stop offset="0.0546" stop-color="#e8e8e8"/>
<stop offset="0.1092" stop-color="#d7d7d7"/>
<stop offset="0.2048" stop-color="#c3c3c3"/>
<stop offset="0.2457" stop-color="#8c8c8c"/>
<stop offset="0.2799" stop-color="#787878"/>
<stop offset="0.3140" stop-color="#969696"/>
<stop offset="0.3413" stop-color="#c3c3c3"/>
<stop offset="0.4232" stop-color="#bebebe"/>
<stop offset="0.4437" stop-color="#464646"/>
<stop offset="0.4778" stop-color="#414141"/>
<stop offset="0.4983" stop-color="#787878"/>
<stop offset="0.5188" stop-color="#5f5f5f"/>
<stop offset="0.5461" stop-color="#787878"/>
<stop offset="0.5734" stop-color="#d2d2d2"/>
<stop offset="0.7235" stop-color="#cdcdcd"/>
<stop offset="0.7509" stop-color="#afafaf"/>
<stop offset="0.7782" stop-color="#d2d2d2"/>
<stop offset="0.8737" stop-color="#c8c8c8"/>
<stop offset="0.9010" stop-color="#464646"/>
<stop offset="0.9147" stop-color="#1e1e1e"/>
<stop offset="0.9693" stop-color="#1e1e1e"/>
<stop offset="1.0000" stop-color="#3c3c3c"/>
</linearGradient>
<linearGradient id="g6" gradientUnits="userSpaceOnUse" x1="0" y1="656" x2="0" y2="802.5">
<stop offset="0.0000" stop-color="#f5f5f5"/>
<stop offset="0.2184" stop-color="#f0f0f0"/>
<stop offset="0.2526" stop-color="#c3c3c3"/>
<stop offset="0.2867" stop-color="#c8c8c8"/>
<stop offset="0.3208" stop-color="#ebebeb"/>
<stop offset="0.4300" stop-color="#dcdcdc"/>
<stop offset="0.4505" stop-color="#3c3c3c"/>
<stop offset="0.4778" stop-color="#464646"/>
<stop offset="0.4983" stop-color="#787878"/>
<stop offset="0.5188" stop-color="#aaaaaa"/>
<stop offset="0.5734" stop-color="#d7d7d7"/>
<stop offset="0.7235" stop-color="#cdcdcd"/>
<stop offset="0.7509" stop-color="#8c8c8c"/>
<stop offset="0.7782" stop-color="#d7d7d7"/>
<stop offset="0.8805" stop-color="#c8c8c8"/>
<stop offset="0.9488" stop-color="#a5a5a5"/>
<stop offset="1.0000" stop-color="#969696"/>
</linearGradient>
<linearGradient id="g7" gradientUnits="userSpaceOnUse" x1="0" y1="656" x2="0" y2="802.5">
<stop offset="0.0000" stop-color="#f2f2f2"/>
<stop offset="0.0819" stop-color="#e8e8e8"/>
<stop offset="0.2321" stop-color="#dedede"/>
<stop offset="0.4369" stop-color="#dadada"/>
<stop offset="0.4573" stop-color="#c3c3c3"/>
<stop offset="0.4846" stop-color="#d7d7d7"/>
<stop offset="0.8328" stop-color="#dadada"/>
<stop offset="0.8669" stop-color="#969696"/>
<stop offset="0.8874" stop-color="#282828"/>
<stop offset="0.9556" stop-color="#232323"/>
<stop offset="0.9829" stop-color="#464646"/>
<stop offset="1.0000" stop-color="#505050"/>
</linearGradient>
<linearGradient id="g8" gradientUnits="userSpaceOnUse" x1="0" y1="656" x2="0" y2="802.5">
<stop offset="0.0000" stop-color="#f0f0f0"/>
<stop offset="0.1365" stop-color="#ebebeb"/>
<stop offset="0.1911" stop-color="#d2d2d2"/>
<stop offset="0.3003" stop-color="#d2d2d2"/>
<stop offset="0.3686" stop-color="#dcdcdc"/>
<stop offset="0.4369" stop-color="#c3c3c3"/>
<stop offset="0.4642" stop-color="#8c8c8c"/>
<stop offset="0.4915" stop-color="#aaaaaa"/>
<stop offset="0.5461" stop-color="#ebebeb"/>
<stop offset="0.7782" stop-color="#e8e8e8"/>
<stop offset="0.8601" stop-color="#cdcdcd"/>
<stop offset="0.8874" stop-color="#232323"/>
<stop offset="0.9420" stop-color="#1e1e1e"/>
<stop offset="0.9693" stop-color="#787878"/>
<stop offset="1.0000" stop-color="#a0a0a0"/>
</linearGradient>
<linearGradient id="g9" gradientUnits="userSpaceOnUse" x1="0" y1="656" x2="0" y2="802.5">
<stop offset="0.0000" stop-color="#f2f2f2"/>
<stop offset="0.1638" stop-color="#ececec"/>
<stop offset="0.2321" stop-color="#d7d7d7"/>
<stop offset="0.2594" stop-color="#a5a5a5"/>
<stop offset="0.2867" stop-color="#bebebe"/>
<stop offset="0.3549" stop-color="#dcdcdc"/>
<stop offset="0.4369" stop-color="#d7d7d7"/>
<stop offset="0.4642" stop-color="#afafaf"/>
<stop offset="0.4915" stop-color="#cdcdcd"/>
<stop offset="0.5461" stop-color="#ebebeb"/>
<stop offset="0.7782" stop-color="#e8e8e8"/>
<stop offset="0.8601" stop-color="#cdcdcd"/>
<stop offset="0.8874" stop-color="#232323"/>
<stop offset="0.9420" stop-color="#1e1e1e"/>
<stop offset="0.9693" stop-color="#787878"/>
<stop offset="1.0000" stop-color="#a0a0a0"/>
</linearGradient>
<linearGradient id="g10" gradientUnits="userSpaceOnUse" x1="0" y1="656" x2="0" y2="802.5">
<stop offset="0.0000" stop-color="#ebebeb"/>
<stop offset="0.0956" stop-color="#e6e6e6"/>
<stop offset="0.2321" stop-color="#d7d7d7"/>
<stop offset="0.2730" stop-color="#afafaf"/>
<stop offset="0.3003" stop-color="#cdcdcd"/>
<stop offset="0.4232" stop-color="#cdcdcd"/>
<stop offset="0.4573" stop-color="#b4b4b4"/>
<stop offset="0.4846" stop-color="#d0d0d0"/>
<stop offset="0.6758" stop-color="#d4d4d4"/>
<stop offset="0.7235" stop-color="#a5a5a5"/>
<stop offset="0.7577" stop-color="#cdcdcd"/>
<stop offset="0.8601" stop-color="#c8c8c8"/>
<stop offset="0.8874" stop-color="#1e1e1e"/>
<stop offset="0.9488" stop-color="#1e1e1e"/>
<stop offset="0.9761" stop-color="#6e6e6e"/>
<stop offset="1.0000" stop-color="#8c8c8c"/>
</linearGradient>
<linearGradient id="g11" gradientUnits="userSpaceOnUse" x1="0" y1="656" x2="0" y2="802.5">
<stop offset="0.0000" stop-color="#eeeeee"/>
<stop offset="0.0546" stop-color="#e4e4e4"/>
<stop offset="0.1092" stop-color="#c8c8c8"/>
<stop offset="0.2321" stop-color="#a5a5a5"/>
<stop offset="0.3003" stop-color="#919191"/>
<stop offset="0.3686" stop-color="#6e6e6e"/>
<stop offset="0.4096" stop-color="#3c3c3c"/>
<stop offset="0.4710" stop-color="#323232"/>
<stop offset="0.5392" stop-color="#2d2d2d"/>
<stop offset="0.5802" stop-color="#787878"/>
<stop offset="0.6007" stop-color="#f5f5f5"/>
<stop offset="0.7782" stop-color="#f0f0f0"/>
<stop offset="0.8328" stop-color="#a0a0a0"/>
<stop offset="0.8737" stop-color="#232323"/>
<stop offset="0.9352" stop-color="#1c1c1c"/>
<stop offset="0.9625" stop-color="#6e6e6e"/>
<stop offset="1.0000" stop-color="#aaaaaa"/>
</linearGradient>
<linearGradient id="g12" gradientUnits="userSpaceOnUse" x1="0" y1="656" x2="0" y2="802.5">
<stop offset="0.0000" stop-color="#ebebeb"/>
<stop offset="0.0546" stop-color="#cdcdcd"/>
<stop offset="0.0956" stop-color="#5a5a5a"/>
<stop offset="0.1638" stop-color="#2d2d2d"/>
<stop offset="0.2321" stop-color="#323232"/>
<stop offset="0.2867" stop-color="#646464"/>
<stop offset="0.3686" stop-color="#646464"/>
<stop offset="0.4096" stop-color="#373737"/>
<stop offset="0.4710" stop-color="#282828"/>
<stop offset="0.5597" stop-color="#282828"/>
<stop offset="0.5870" stop-color="#787878"/>
<stop offset="0.6075" stop-color="#f5f5f5"/>
<stop offset="0.7782" stop-color="#f0f0f0"/>
<stop offset="0.8328" stop-color="#a0a0a0"/>
<stop offset="0.8737" stop-color="#232323"/>
<stop offset="0.9352" stop-color="#1c1c1c"/>
<stop offset="0.9625" stop-color="#6e6e6e"/>
<stop offset="1.0000" stop-color="#aaaaaa"/>
</linearGradient>
<linearGradient id="g13" gradientUnits="userSpaceOnUse" x1="0" y1="656" x2="0" y2="802.5">
<stop offset="0.0000" stop-color="#f0f0f0"/>
<stop offset="0.1092" stop-color="#e6e6e6"/>
<stop offset="0.1775" stop-color="#cdcdcd"/>
<stop offset="0.3003" stop-color="#b9b9b9"/>
<stop offset="0.3345" stop-color="#6e6e6e"/>
<stop offset="0.3686" stop-color="#505050"/>
<stop offset="0.3959" stop-color="#969696"/>
<stop offset="0.4369" stop-color="#787878"/>
<stop offset="0.4846" stop-color="#4b4b4b"/>
<stop offset="0.5188" stop-color="#505050"/>
<stop offset="0.5529" stop-color="#8c8c8c"/>
<stop offset="0.6553" stop-color="#969696"/>
<stop offset="0.6894" stop-color="#5f5f5f"/>
<stop offset="0.7235" stop-color="#969696"/>
<stop offset="0.7918" stop-color="#969696"/>
<stop offset="0.8328" stop-color="#464646"/>
<stop offset="0.8601" stop-color="#191919"/>
<stop offset="1.0000" stop-color="#161616"/>
</linearGradient>
</defs>
<defs><filter id="gblur" x="-5%" y="-2%" width="110%" height="104%"><feGaussianBlur stdDeviation="0.5 1.3"/></filter></defs>
<clipPath id="cp0"><rect x="116.2" y="656" width="24.60000000000001" height="146.5"/></clipPath>
<g clip-path="url(#cp0)"><g filter="url(#gblur)">
<rect x="113.20" y="652" width="30.60" height="154.5" fill="url(#g0)"/>
<rect x="115.30" y="656" width="1.8" height="146.5" fill="#fff" opacity="0.25"/>
<rect x="121.45" y="656" width="1.8" height="146.5" fill="#fff" opacity="0.25"/>
<rect x="127.60" y="656" width="1.8" height="146.5" fill="#fff" opacity="0.25"/>
<rect x="133.75" y="656" width="1.8" height="146.5" fill="#fff" opacity="0.25"/>
<rect x="139.90" y="656" width="1.8" height="146.5" fill="#fff" opacity="0.25"/>
</g></g>
<ellipse cx="119.28" cy="659" rx="1.8" ry="0.9" fill="#777"/>
<ellipse cx="125.43" cy="659" rx="1.8" ry="0.9" fill="#777"/>
<ellipse cx="131.58" cy="659" rx="1.8" ry="0.9" fill="#777"/>
<ellipse cx="137.73" cy="659" rx="1.8" ry="0.9" fill="#777"/>
<rect x="116.60" y="656.4" width="23.80" height="145.7" fill="none" stroke="#1a1a1a" stroke-width="0.9"/>
<clipPath id="cp1"><rect x="143.2" y="656" width="24.600000000000023" height="146.5"/></clipPath>
<g clip-path="url(#cp1)"><g filter="url(#gblur)">
<rect x="140.20" y="652" width="30.60" height="154.5" fill="url(#g1)"/>
<rect x="142.30" y="656" width="1.8" height="146.5" fill="#fff" opacity="0.25"/>
<rect x="148.45" y="656" width="1.8" height="146.5" fill="#fff" opacity="0.25"/>
<rect x="154.60" y="656" width="1.8" height="146.5" fill="#fff" opacity="0.25"/>
<rect x="160.75" y="656" width="1.8" height="146.5" fill="#fff" opacity="0.25"/>
<rect x="166.90" y="656" width="1.8" height="146.5" fill="#fff" opacity="0.25"/>
</g></g>
<ellipse cx="146.27" cy="659" rx="1.8" ry="0.9" fill="#666"/>
<ellipse cx="152.43" cy="659" rx="1.8" ry="0.9" fill="#666"/>
<ellipse cx="158.57" cy="659" rx="1.8" ry="0.9" fill="#666"/>
<ellipse cx="164.73" cy="659" rx="1.8" ry="0.9" fill="#666"/>
<rect x="143.60" y="656.4" width="23.80" height="145.7" fill="none" stroke="#1a1a1a" stroke-width="0.9"/>
<clipPath id="cp2"><rect x="169.7" y="656" width="24.600000000000023" height="146.5"/></clipPath>
<g clip-path="url(#cp2)"><g filter="url(#gblur)">
<rect x="166.70" y="652" width="15.30" height="154.5" fill="url(#g2)"/>
<rect x="182.00" y="652" width="15.30" height="154.5" fill="url(#g3)"/>
<rect x="168.80" y="656" width="1.8" height="146.5" fill="#fff" opacity="0.25"/>
<rect x="174.95" y="656" width="1.8" height="146.5" fill="#fff" opacity="0.25"/>
<rect x="181.10" y="656" width="1.8" height="146.5" fill="#fff" opacity="0.25"/>
<rect x="187.25" y="656" width="1.8" height="146.5" fill="#fff" opacity="0.25"/>
<rect x="193.40" y="656" width="1.8" height="146.5" fill="#fff" opacity="0.25"/>
</g></g>
<ellipse cx="172.77" cy="659" rx="1.8" ry="0.9" fill="#bbb"/>
<ellipse cx="178.93" cy="659" rx="1.8" ry="0.9" fill="#bbb"/>
<ellipse cx="185.07" cy="659" rx="1.8" ry="0.9" fill="#bbb"/>
<ellipse cx="191.23" cy="659" rx="1.8" ry="0.9" fill="#bbb"/>
<rect x="170.10" y="656.4" width="23.80" height="145.7" fill="none" stroke="#1a1a1a" stroke-width="0.9"/>
<clipPath id="cp3"><rect x="196.8" y="656" width="24.599999999999994" height="146.5"/></clipPath>
<g clip-path="url(#cp3)"><g filter="url(#gblur)">
<rect x="193.80" y="652" width="30.60" height="154.5" fill="url(#g4)"/>
<rect x="195.90" y="656" width="1.8" height="146.5" fill="#fff" opacity="0.25"/>
<rect x="202.05" y="656" width="1.8" height="146.5" fill="#fff" opacity="0.25"/>
<rect x="208.20" y="656" width="1.8" height="146.5" fill="#fff" opacity="0.25"/>
<rect x="214.35" y="656" width="1.8" height="146.5" fill="#fff" opacity="0.25"/>
<rect x="220.50" y="656" width="1.8" height="146.5" fill="#fff" opacity="0.25"/>
</g></g>
<ellipse cx="199.88" cy="659" rx="1.8" ry="0.9" fill="#555"/>
<ellipse cx="206.03" cy="659" rx="1.8" ry="0.9" fill="#555"/>
<ellipse cx="212.18" cy="659" rx="1.8" ry="0.9" fill="#555"/>
<ellipse cx="218.33" cy="659" rx="1.8" ry="0.9" fill="#555"/>
<rect x="197.20" y="656.4" width="23.80" height="145.7" fill="none" stroke="#1a1a1a" stroke-width="0.9"/>
<clipPath id="cp4"><rect x="223.8" y="656" width="34.80000000000001" height="146.5"/></clipPath>
<g clip-path="url(#cp4)"><g filter="url(#gblur)">
<rect x="220.80" y="652" width="40.80" height="154.5" fill="url(#g5)"/>
<rect x="222.90" y="656" width="1.8" height="146.5" fill="#fff" opacity="0.25"/>
<rect x="228.70" y="656" width="1.8" height="146.5" fill="#fff" opacity="0.25"/>
<rect x="234.50" y="656" width="1.8" height="146.5" fill="#fff" opacity="0.25"/>
<rect x="240.30" y="656" width="1.8" height="146.5" fill="#fff" opacity="0.25"/>
<rect x="246.10" y="656" width="1.8" height="146.5" fill="#fff" opacity="0.25"/>
<rect x="251.90" y="656" width="1.8" height="146.5" fill="#fff" opacity="0.25"/>
<rect x="257.70" y="656" width="1.8" height="146.5" fill="#fff" opacity="0.25"/>
</g></g>
<ellipse cx="226.70" cy="659" rx="1.8" ry="0.9" fill="#333"/>
<ellipse cx="232.50" cy="659" rx="1.8" ry="0.9" fill="#333"/>
<ellipse cx="238.30" cy="659" rx="1.8" ry="0.9" fill="#333"/>
<ellipse cx="244.10" cy="659" rx="1.8" ry="0.9" fill="#333"/>
<ellipse cx="249.90" cy="659" rx="1.8" ry="0.9" fill="#333"/>
<ellipse cx="255.70" cy="659" rx="1.8" ry="0.9" fill="#333"/>
<rect x="224.20" y="656.4" width="34.00" height="145.7" fill="none" stroke="#1a1a1a" stroke-width="0.9"/>
<clipPath id="cp5"><rect x="260.5" y="656" width="36.30000000000001" height="146.5"/></clipPath>
<g clip-path="url(#cp5)"><g filter="url(#gblur)">
<rect x="257.50" y="652" width="21.15" height="154.5" fill="url(#g6)"/>
<rect x="278.65" y="652" width="21.15" height="154.5" fill="url(#g7)"/>
<rect x="259.60" y="656" width="1.8" height="146.5" fill="#fff" opacity="0.25"/>
<rect x="265.65" y="656" width="1.8" height="146.5" fill="#fff" opacity="0.25"/>
<rect x="271.70" y="656" width="1.8" height="146.5" fill="#fff" opacity="0.25"/>
<rect x="277.75" y="656" width="1.8" height="146.5" fill="#fff" opacity="0.25"/>
<rect x="283.80" y="656" width="1.8" height="146.5" fill="#fff" opacity="0.25"/>
<rect x="289.85" y="656" width="1.8" height="146.5" fill="#fff" opacity="0.25"/>
<rect x="295.90" y="656" width="1.8" height="146.5" fill="#fff" opacity="0.25"/>
</g></g>
<ellipse cx="263.52" cy="659" rx="1.8" ry="0.9" fill="#aaa"/>
<ellipse cx="269.57" cy="659" rx="1.8" ry="0.9" fill="#aaa"/>
<ellipse cx="275.62" cy="659" rx="1.8" ry="0.9" fill="#aaa"/>
<ellipse cx="281.68" cy="659" rx="1.8" ry="0.9" fill="#aaa"/>
<ellipse cx="287.73" cy="659" rx="1.8" ry="0.9" fill="#aaa"/>
<ellipse cx="293.77" cy="659" rx="1.8" ry="0.9" fill="#aaa"/>
<rect x="260.90" y="656.4" width="35.50" height="145.7" fill="none" stroke="#1a1a1a" stroke-width="0.9"/>
<clipPath id="cp6"><rect x="298.6" y="656" width="36.39999999999998" height="146.5"/></clipPath>
<g clip-path="url(#cp6)"><g filter="url(#gblur)">
<rect x="295.60" y="652" width="21.20" height="154.5" fill="url(#g8)"/>
<rect x="316.80" y="652" width="21.20" height="154.5" fill="url(#g9)"/>
<rect x="297.70" y="656" width="1.8" height="146.5" fill="#fff" opacity="0.25"/>
<rect x="303.77" y="656" width="1.8" height="146.5" fill="#fff" opacity="0.25"/>
<rect x="309.83" y="656" width="1.8" height="146.5" fill="#fff" opacity="0.25"/>
<rect x="315.90" y="656" width="1.8" height="146.5" fill="#fff" opacity="0.25"/>
<rect x="321.97" y="656" width="1.8" height="146.5" fill="#fff" opacity="0.25"/>
<rect x="328.03" y="656" width="1.8" height="146.5" fill="#fff" opacity="0.25"/>
<rect x="334.10" y="656" width="1.8" height="146.5" fill="#fff" opacity="0.25"/>
</g></g>
<ellipse cx="301.63" cy="659" rx="1.8" ry="0.9" fill="#888"/>
<ellipse cx="307.70" cy="659" rx="1.8" ry="0.9" fill="#888"/>
<ellipse cx="313.77" cy="659" rx="1.8" ry="0.9" fill="#888"/>
<ellipse cx="319.83" cy="659" rx="1.8" ry="0.9" fill="#888"/>
<ellipse cx="325.90" cy="659" rx="1.8" ry="0.9" fill="#888"/>
<ellipse cx="331.97" cy="659" rx="1.8" ry="0.9" fill="#888"/>
<rect x="299.00" y="656.4" width="35.60" height="145.7" fill="none" stroke="#1a1a1a" stroke-width="0.9"/>
<clipPath id="cp7"><rect x="336.8" y="656" width="35.69999999999999" height="146.5"/></clipPath>
<g clip-path="url(#cp7)"><g filter="url(#gblur)">
<rect x="333.80" y="652" width="41.70" height="154.5" fill="url(#g10)"/>
<rect x="335.90" y="656" width="1.8" height="146.5" fill="#fff" opacity="0.25"/>
<rect x="341.85" y="656" width="1.8" height="146.5" fill="#fff" opacity="0.25"/>
<rect x="347.80" y="656" width="1.8" height="146.5" fill="#fff" opacity="0.25"/>
<rect x="353.75" y="656" width="1.8" height="146.5" fill="#fff" opacity="0.25"/>
<rect x="359.70" y="656" width="1.8" height="146.5" fill="#fff" opacity="0.25"/>
<rect x="365.65" y="656" width="1.8" height="146.5" fill="#fff" opacity="0.25"/>
<rect x="371.60" y="656" width="1.8" height="146.5" fill="#fff" opacity="0.25"/>
</g></g>
<ellipse cx="339.78" cy="659" rx="1.8" ry="0.9" fill="#999"/>
<ellipse cx="345.73" cy="659" rx="1.8" ry="0.9" fill="#999"/>
<ellipse cx="351.68" cy="659" rx="1.8" ry="0.9" fill="#999"/>
<ellipse cx="357.62" cy="659" rx="1.8" ry="0.9" fill="#999"/>
<ellipse cx="363.57" cy="659" rx="1.8" ry="0.9" fill="#999"/>
<ellipse cx="369.52" cy="659" rx="1.8" ry="0.9" fill="#999"/>
<rect x="337.20" y="656.4" width="34.90" height="145.7" fill="none" stroke="#1a1a1a" stroke-width="0.9"/>
<clipPath id="cp8"><rect x="374.3" y="656" width="24.69999999999999" height="146.5"/></clipPath>
<g clip-path="url(#cp8)"><g filter="url(#gblur)">
<rect x="371.30" y="652" width="15.35" height="154.5" fill="url(#g11)"/>
<rect x="386.65" y="652" width="15.35" height="154.5" fill="url(#g12)"/>
<rect x="373.40" y="656" width="1.8" height="146.5" fill="#fff" opacity="0.25"/>
<rect x="379.58" y="656" width="1.8" height="146.5" fill="#fff" opacity="0.25"/>
<rect x="385.75" y="656" width="1.8" height="146.5" fill="#fff" opacity="0.25"/>
<rect x="391.93" y="656" width="1.8" height="146.5" fill="#fff" opacity="0.25"/>
<rect x="398.10" y="656" width="1.8" height="146.5" fill="#fff" opacity="0.25"/>
</g></g>
<ellipse cx="377.39" cy="659" rx="1.8" ry="0.9" fill="#555"/>
<ellipse cx="383.56" cy="659" rx="1.8" ry="0.9" fill="#555"/>
<ellipse cx="389.74" cy="659" rx="1.8" ry="0.9" fill="#555"/>
<ellipse cx="395.91" cy="659" rx="1.8" ry="0.9" fill="#555"/>
<rect x="374.70" y="656.4" width="23.90" height="145.7" fill="none" stroke="#1a1a1a" stroke-width="0.9"/>
<clipPath id="cp9"><rect x="401" y="656" width="24.80000000000001" height="146.5"/></clipPath>
<g clip-path="url(#cp9)"><g filter="url(#gblur)">
<rect x="398.00" y="652" width="30.80" height="154.5" fill="url(#g13)"/>
<rect x="400.10" y="656" width="1.8" height="146.5" fill="#fff" opacity="0.25"/>
<rect x="406.30" y="656" width="1.8" height="146.5" fill="#fff" opacity="0.25"/>
<rect x="412.50" y="656" width="1.8" height="146.5" fill="#fff" opacity="0.25"/>
<rect x="418.70" y="656" width="1.8" height="146.5" fill="#fff" opacity="0.25"/>
<rect x="424.90" y="656" width="1.8" height="146.5" fill="#fff" opacity="0.25"/>
</g></g>
<ellipse cx="404.10" cy="659" rx="1.8" ry="0.9" fill="#999"/>
<ellipse cx="410.30" cy="659" rx="1.8" ry="0.9" fill="#999"/>
<ellipse cx="416.50" cy="659" rx="1.8" ry="0.9" fill="#999"/>
<ellipse cx="422.70" cy="659" rx="1.8" ry="0.9" fill="#999"/>
<rect x="401.40" y="656.4" width="24.00" height="145.7" fill="none" stroke="#1a1a1a" stroke-width="0.9"/>
<text transform="translate(128.00,640.2) rotate(-47)" font-size="5.6" fill="#111" stroke="#111" stroke-width="0.15">rs62541878</text>
<text transform="translate(154.00,640.2) rotate(-47)" font-size="5.6" fill="#9c3a4e" stroke="#9c3a4e" stroke-width="0.15">rs13279183</text>
<text transform="translate(181.80,640.2) rotate(-47)" font-size="5.6" fill="#9c3a4e" stroke="#9c3a4e" stroke-width="0.15">rs62541920</text>
<text transform="translate(208.00,640.2) rotate(-47)" font-size="5.6" fill="#111" stroke="#111" stroke-width="0.15">rs10962647</text>
<text transform="translate(240.20,640.2) rotate(-47)" font-size="5.6" fill="#111" stroke="#111" stroke-width="0.15">rs10810657</text>
<text transform="translate(277.30,640.2) rotate(-47)" font-size="5.6" fill="#9c3a4e" stroke="#9c3a4e" stroke-width="0.15">rs12350739</text>
<text transform="translate(317.20,640.2) rotate(-47)" font-size="5.6" fill="#9c3a4e" stroke="#9c3a4e" stroke-width="0.15">rs77507622</text>
<text transform="translate(354.10,640.2) rotate(-47)" font-size="5.6" fill="#111" stroke="#111" stroke-width="0.15">rs113780397</text>
<text transform="translate(382.60,640.2) rotate(-47)" font-size="5.6" fill="#9c3a4e" stroke="#9c3a4e" stroke-width="0.15">rs181552234</text>
<text transform="translate(409.70,640.2) rotate(-47)" font-size="5.6" fill="#111" stroke="#111" stroke-width="0.15">rs3814113</text>
<line x1="116.00" y1="641.30" x2="140.00" y2="641.30" stroke="#9098c0" stroke-width="0.7" />
<line x1="143.00" y1="641.30" x2="167.50" y2="641.30" stroke="#9098c0" stroke-width="0.7" />
<line x1="170.00" y1="641.30" x2="194.00" y2="641.30" stroke="#9098c0" stroke-width="0.7" />
<line x1="197.00" y1="641.30" x2="221.00" y2="641.30" stroke="#9098c0" stroke-width="0.7" />
<line x1="224.00" y1="641.30" x2="258.50" y2="641.30" stroke="#9098c0" stroke-width="0.7" />
<line x1="261.60" y1="641.30" x2="295.30" y2="641.30" stroke="#9098c0" stroke-width="0.7" />
<line x1="300.80" y1="641.30" x2="335.20" y2="641.30" stroke="#9098c0" stroke-width="0.7" />
<line x1="338.40" y1="641.30" x2="372.70" y2="641.30" stroke="#9098c0" stroke-width="0.7" />
<line x1="376.00" y1="641.30" x2="397.30" y2="641.30" stroke="#9098c0" stroke-width="0.7" />
<line x1="400.50" y1="641.30" x2="425.00" y2="641.30" stroke="#9098c0" stroke-width="0.7" />
<text x="117.60" y="647.80" font-size="6" fill="#111" text-anchor="start" font-weight="bold"  style="">A A</text>
<text x="128.50" y="654.30" font-size="6" fill="#111" text-anchor="start" font-weight="bold"  style="">T T</text>
<text x="146.30" y="647.80" font-size="6" fill="#111" text-anchor="start" font-weight="bold"  style="">A A</text>
<text x="155.50" y="654.30" font-size="6" fill="#111" text-anchor="start" font-weight="bold"  style="">G G</text>
<text x="171.50" y="647.80" font-size="6" fill="#111" text-anchor="start" font-weight="bold"  style="">G G</text>
<text x="182.30" y="654.30" font-size="6" fill="#111" text-anchor="start" font-weight="bold"  style="">A A</text>
<text x="198.60" y="647.80" font-size="6" fill="#111" text-anchor="start" font-weight="bold"  style="">T T</text>
<text x="207.80" y="654.30" font-size="6" fill="#111" text-anchor="start" font-weight="bold"  style="">G G</text>
<text x="226.30" y="654.30" font-size="6" fill="#111" text-anchor="start" font-weight="bold"  style="">A A A</text>
<text x="240.80" y="647.80" font-size="6" fill="#111" text-anchor="start" font-weight="bold"  style="">T T T</text>
<text x="263.30" y="654.30" font-size="6" fill="#111" text-anchor="start" font-weight="bold"  style="">A A A</text>
<text x="278.00" y="647.80" font-size="6" fill="#111" text-anchor="start" font-weight="bold"  style="">G G G</text>
<text x="300.80" y="647.80" font-size="6" fill="#111" text-anchor="start" font-weight="bold"  style="">A A A</text>
<text x="317.20" y="654.30" font-size="6" fill="#111" text-anchor="start" font-weight="bold"  style="">G G G</text>
<text x="338.40" y="654.30" font-size="6" fill="#111" text-anchor="start" font-weight="bold"  style="">A A A</text>
<text x="354.00" y="647.80" font-size="6" fill="#111" text-anchor="start" font-weight="bold"  style="">G G G</text>
<text x="378.30" y="647.80" font-size="6" fill="#111" text-anchor="start" font-weight="bold"  style="">A A</text>
<text x="389.00" y="654.30" font-size="6" fill="#111" text-anchor="start" font-weight="bold"  style="">G G</text>
<text x="403.00" y="647.80" font-size="6" fill="#111" text-anchor="start" font-weight="bold"  style="">T T</text>
<text x="415.20" y="654.30" font-size="6" fill="#111" text-anchor="start" font-weight="bold"  style="">C C</text>
<text x="72.80" y="791.70" font-size="5.95" fill="#222" text-anchor="start" font-weight="normal"  style="">Free probe</text>
<line x1="102.50" y1="789.50" x2="112.50" y2="789.50" stroke="#111" stroke-width="0.8" />
<path d="M115,789.5 L111.5,787.8 L111.5,791.2 Z" fill="#111"/>
<text x="97.80" y="811.30" font-size="5.3" fill="#222" text-anchor="start" font-weight="normal"  style="">Region</text>
<line x1="117.50" y1="805.30" x2="139.00" y2="805.30" stroke="#777" stroke-width="0.6" />
<text x="128.25" y="811.30" font-size="5.3" fill="#222" text-anchor="middle" font-weight="normal"  style="">6</text>
<line x1="145.00" y1="805.30" x2="220.00" y2="805.30" stroke="#777" stroke-width="0.6" />
<text x="182.50" y="811.30" font-size="5.3" fill="#222" text-anchor="middle" font-weight="normal"  style="">7</text>
<line x1="225.00" y1="805.30" x2="333.00" y2="805.30" stroke="#777" stroke-width="0.6" />
<text x="279.00" y="811.30" font-size="5.3" fill="#222" text-anchor="middle" font-weight="normal"  style="">8</text>
<line x1="338.00" y1="805.30" x2="398.00" y2="805.30" stroke="#777" stroke-width="0.6" />
<text x="368.00" y="811.30" font-size="5.3" fill="#222" text-anchor="middle" font-weight="normal"  style="">11</text>
<line x1="402.00" y1="805.30" x2="426.00" y2="805.30" stroke="#777" stroke-width="0.6" />
<text x="414.00" y="811.30" font-size="5.3" fill="#222" text-anchor="middle" font-weight="normal"  style="">12</text>
</svg></body></html>
